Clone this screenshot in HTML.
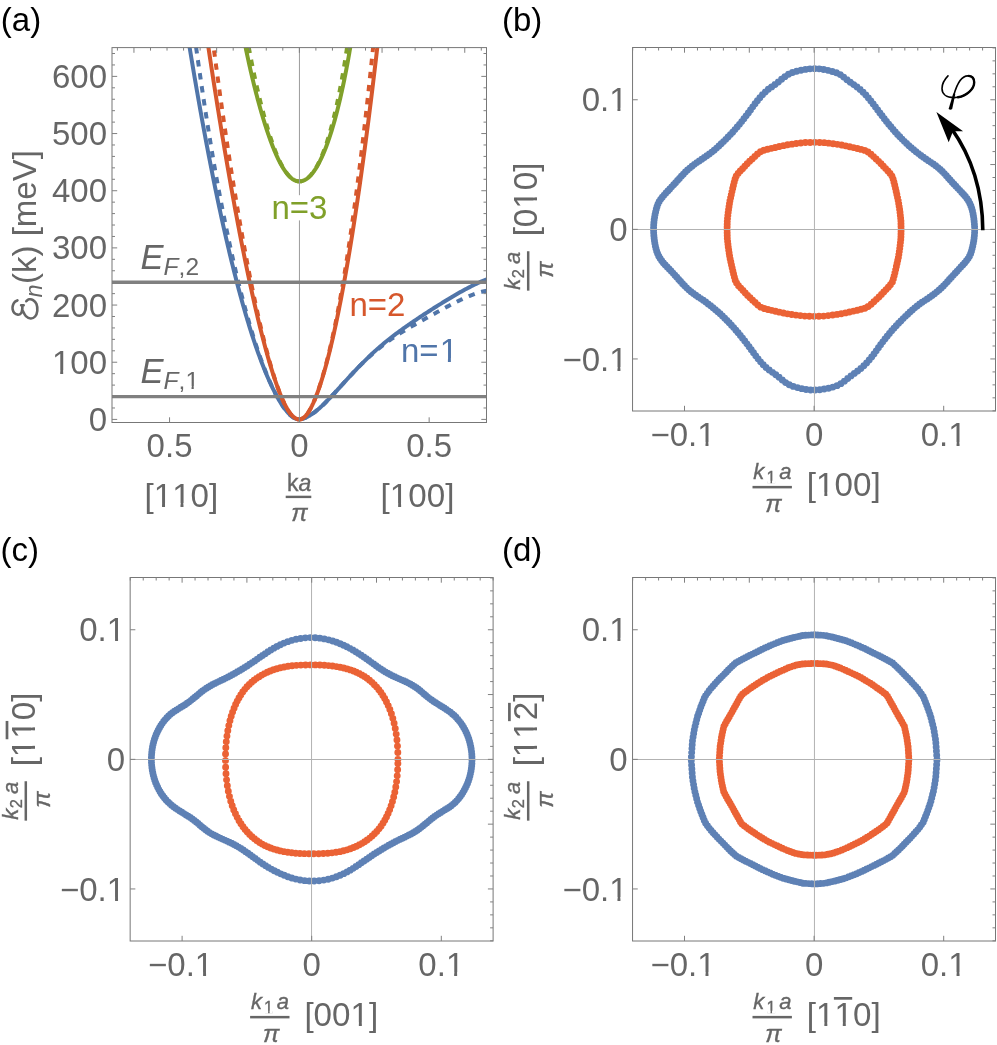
<!DOCTYPE html>
<html><head><meta charset="utf-8"><title>figure</title>
<style>html,body{margin:0;padding:0;background:#fff}svg{display:block;will-change:transform}text{font-family:"Liberation Sans", sans-serif;font-kerning:none}</style></head>
<body><svg width="997" height="1045" viewBox="0 0 997 1045">
<rect width="997" height="1045" fill="#fff"/>
<defs><clipPath id="clipA"><rect x="112" y="47.6" width="374.5" height="374.9"/></clipPath></defs>
<g clip-path="url(#clipA)" fill="none" stroke-width="4.0" stroke-linejoin="round">
<path d="M185.36 21.04 L186.14 25.98 L186.93 30.89 L187.71 35.77 L188.5 40.62 L189.29 45.44 L190.07 50.24 L190.86 55 L191.65 59.73 L192.43 64.43 L193.22 69.11 L194 73.75 L194.79 78.37 L195.58 82.95 L196.36 87.51 L197.15 92.03 L197.93 96.53 L198.72 101 L199.51 105.44 L200.29 109.84 L201.08 114.22 L201.87 118.57 L202.65 122.89 L203.44 127.18 L204.22 131.44 L205.01 135.67 L205.8 139.88 L206.58 144.05 L207.37 148.19 L208.16 152.3 L208.94 156.39 L209.73 160.44 L210.51 164.46 L211.3 168.46 L212.09 172.42 L212.87 176.36 L213.66 180.26 L214.44 184.14 L215.23 187.99 L216.02 191.81 L216.8 195.59 L217.59 199.35 L218.38 203.08 L219.16 206.78 L219.95 210.45 L220.73 214.09 L221.52 217.7 L222.31 221.28 L223.09 224.83 L223.88 228.35 L224.66 231.84 L225.45 235.3 L226.24 238.73 L227.02 242.14 L227.81 245.51 L228.6 248.85 L229.38 252.17 L230.17 255.45 L230.95 258.7 L231.74 261.93 L232.53 265.12 L233.31 268.29 L234.1 271.42 L234.88 274.53 L235.67 277.6 L236.46 280.65 L237.24 283.66 L238.03 286.65 L238.82 289.61 L239.6 292.53 L240.39 295.43 L241.17 298.29 L241.96 301.13 L242.75 303.94 L243.53 306.71 L244.32 309.46 L245.1 312.18 L245.89 314.87 L246.68 317.52 L247.46 320.15 L248.25 322.75 L249.04 325.31 L249.82 327.85 L250.61 330.35 L251.39 332.83 L252.18 335.28 L252.97 337.69 L253.75 340.08 L254.54 342.43 L255.32 344.76 L256.11 347.05 L256.9 349.31 L257.68 351.55 L258.47 353.75 L259.26 355.92 L260.04 358.06 L260.83 360.17 L261.61 362.25 L262.4 364.3 L263.19 366.31 L263.97 368.3 L264.76 370.25 L265.54 372.17 L266.33 374.07 L267.12 375.92 L267.9 377.75 L268.69 379.55 L269.48 381.31 L270.26 383.04 L271.05 384.74 L271.83 386.41 L272.62 388.04 L273.41 389.64 L274.19 391.21 L274.98 392.74 L275.77 394.24 L276.55 395.7 L277.34 397.13 L278.12 398.52 L278.91 399.88 L279.7 401.2 L280.48 402.48 L281.27 403.73 L282.05 404.94 L282.84 406.11 L283.63 407.24 L284.41 408.33 L285.2 409.37 L285.99 410.38 L286.77 411.34 L287.56 412.25 L288.34 413.12 L289.13 413.94 L289.92 414.71 L290.7 415.43 L291.49 416.09 L292.27 416.7 L293.06 417.25 L293.85 417.75 L294.63 418.18 L295.42 418.55 L296.21 418.85 L296.99 419.09 L297.78 419.26 L298.56 419.37 L299.35 419.4 L300.61 419.15 L301.87 418.88 L303.12 418.52 L304.38 418.09 L305.64 417.59 L306.9 417.01 L308.16 416.37 L309.41 415.67 L310.67 414.91 L311.93 414.09 L313.19 413.21 L314.44 412.29 L315.7 411.32 L316.96 410.31 L318.22 409.26 L319.48 408.16 L320.73 407.04 L321.99 405.88 L323.25 404.69 L324.51 403.47 L325.77 402.23 L327.02 400.96 L328.28 399.68 L329.54 398.38 L330.8 397.06 L332.05 395.72 L333.31 394.38 L334.57 393.02 L335.83 391.66 L337.09 390.29 L338.34 388.91 L339.6 387.53 L340.86 386.15 L342.12 384.76 L343.38 383.38 L344.63 382 L345.89 380.62 L347.15 379.24 L348.41 377.87 L349.66 376.51 L350.92 375.15 L352.18 373.8 L353.44 372.45 L354.7 371.12 L355.95 369.79 L357.21 368.47 L358.47 367.16 L359.73 365.87 L360.99 364.58 L362.24 363.31 L363.5 362.05 L364.76 360.8 L366.02 359.56 L367.27 358.33 L368.53 357.12 L369.79 355.92 L371.05 354.74 L372.31 353.56 L373.56 352.4 L374.82 351.26 L376.08 350.13 L377.34 349.01 L378.6 347.9 L379.85 346.81 L381.11 345.73 L382.37 344.67 L383.63 343.62 L384.88 342.57 L386.14 341.55 L387.4 340.53 L388.66 339.53 L389.92 338.53 L391.17 337.55 L392.43 336.58 L393.69 335.62 L394.95 334.66 L396.21 333.72 L397.46 332.78 L398.72 331.86 L399.98 330.94 L401.24 330.02 L402.49 329.12 L403.75 328.22 L405.01 327.33 L406.27 326.44 L407.53 325.56 L408.78 324.69 L410.04 323.82 L411.3 322.95 L412.56 322.09 L413.82 321.24 L415.07 320.39 L416.33 319.54 L417.59 318.7 L418.85 317.86 L420.1 317.03 L421.36 316.2 L422.62 315.37 L423.88 314.54 L425.14 313.72 L426.39 312.91 L427.65 312.09 L428.91 311.28 L430.17 310.47 L431.43 309.66 L432.68 308.86 L433.94 308.06 L435.2 307.26 L436.46 306.47 L437.71 305.68 L438.97 304.89 L440.23 304.11 L441.49 303.33 L442.75 302.55 L444 301.78 L445.26 301 L446.52 300.24 L447.78 299.48 L449.04 298.72 L450.29 297.96 L451.55 297.21 L452.81 296.47 L454.07 295.73 L455.32 294.99 L456.58 294.27 L457.84 293.54 L459.1 292.83 L460.36 292.11 L461.61 291.41 L462.87 290.71 L464.13 290.02 L465.39 289.34 L466.65 288.67 L467.9 288 L469.16 287.35 L470.42 286.7 L471.68 286.06 L472.93 285.44 L474.19 284.82 L475.45 284.21 L476.71 283.62 L477.97 283.04 L479.22 282.47 L480.48 281.91 L481.74 281.37 L483 280.84 L484.26 280.33 L485.51 279.83 L486.77 279.35 L488.03 278.89 L489.29 278.44 L490.54 278.01 L491.8 277.6 L493.06 277.2 L494.32 276.83 L495.58 276.48 L496.83 276.15 L498.09 275.84 L499.35 275.56" stroke="#5075a9" />
<path d="M192.53 21.04 L193.19 25.98 L193.85 30.89 L194.51 35.77 L195.18 40.62 L195.84 45.44 L196.51 50.24 L197.18 55 L197.85 59.73 L198.52 64.43 L199.19 69.11 L199.86 73.75 L200.53 78.37 L201.2 82.95 L201.88 87.51 L202.55 92.03 L203.23 96.53 L203.9 101 L204.58 105.44 L205.25 109.84 L205.93 114.22 L206.61 118.57 L207.29 122.89 L207.97 127.18 L208.65 131.44 L209.33 135.67 L210.02 139.88 L210.7 144.05 L211.38 148.19 L212.07 152.3 L212.75 156.39 L213.44 160.44 L214.12 164.46 L214.81 168.46 L215.5 172.42 L216.21 176.36 L216.93 180.26 L217.65 184.14 L218.37 187.99 L219.09 191.81 L219.81 195.59 L220.53 199.35 L221.25 203.08 L221.97 206.78 L222.69 210.45 L223.42 214.09 L224.14 217.7 L224.86 221.28 L225.59 224.83 L226.31 228.35 L227.04 231.84 L227.76 235.3 L228.49 238.73 L229.22 242.14 L229.95 245.51 L230.67 248.85 L231.4 252.17 L232.13 255.45 L232.86 258.7 L233.59 261.93 L234.32 265.12 L235.05 268.29 L235.78 271.42 L236.51 274.53 L237.25 277.6 L237.98 280.65 L238.72 283.66 L239.47 286.65 L240.21 289.61 L240.96 292.53 L241.7 295.43 L242.45 298.29 L243.2 301.13 L243.94 303.94 L244.69 306.71 L245.44 309.46 L246.19 312.18 L246.94 314.87 L247.69 317.52 L248.44 320.15 L249.19 322.75 L249.94 325.31 L250.69 327.85 L251.44 330.35 L252.19 332.83 L252.95 335.28 L253.7 337.69 L254.45 340.08 L255.21 342.43 L255.97 344.76 L256.73 347.05 L257.49 349.31 L258.25 351.55 L259.01 353.75 L259.77 355.92 L260.53 358.06 L261.29 360.17 L262.05 362.25 L262.82 364.3 L263.58 366.31 L264.34 368.3 L265.11 370.25 L265.87 372.17 L266.63 374.07 L267.4 375.92 L268.16 377.75 L268.93 379.55 L269.69 381.31 L270.46 383.04 L271.23 384.74 L271.99 386.41 L272.76 388.04 L273.53 389.64 L274.3 391.21 L275.06 392.74 L275.83 394.24 L276.6 395.7 L277.37 397.13 L278.14 398.52 L278.91 399.88 L279.7 401.2 L280.48 402.48 L281.27 403.73 L282.05 404.94 L282.84 406.11 L283.63 407.24 L284.41 408.33 L285.2 409.37 L285.99 410.38 L286.77 411.34 L287.56 412.25 L288.34 413.12 L289.13 413.94 L289.92 414.71 L290.7 415.43 L291.49 416.09 L292.27 416.7 L293.06 417.25 L293.85 417.75 L294.63 418.18 L295.42 418.55 L296.21 418.85 L296.99 419.09 L297.78 419.26 L298.56 419.37 L299.35 419.4 L300.61 419.15 L301.87 418.88 L303.12 418.52 L304.38 418.09 L305.64 417.59 L306.9 417.01 L308.16 416.37 L309.41 415.67 L310.67 414.91 L311.93 414.09 L313.19 413.21 L314.44 412.29 L315.7 411.32 L316.96 410.31 L318.22 409.26 L319.48 408.16 L320.73 407.04 L321.99 405.88 L323.25 404.69 L324.51 403.47 L325.77 402.23 L327.02 400.96 L328.28 399.68 L329.54 398.38 L330.8 397.06 L332.05 395.72 L333.31 394.38 L334.57 393.02 L335.83 391.66 L337.09 390.29 L338.34 388.91 L339.6 387.53 L340.86 386.15 L342.12 384.76 L343.38 383.38 L344.63 382 L345.89 380.62 L347.15 379.24 L348.41 377.87 L349.66 376.51 L350.92 375.15 L352.18 373.8 L353.44 372.45 L354.7 371.12 L355.95 369.79 L357.21 368.47 L358.47 367.16 L359.73 365.88 L360.99 364.65 L362.24 363.42 L363.5 362.21 L364.76 361.01 L366.02 359.82 L367.27 358.65 L368.53 357.49 L369.79 356.34 L371.05 355.2 L372.31 354.08 L373.56 352.97 L374.82 351.89 L376.08 350.83 L377.34 349.79 L378.6 348.76 L379.85 347.74 L381.11 346.74 L382.37 345.75 L383.63 344.77 L384.88 343.81 L386.14 342.85 L387.4 341.91 L388.66 340.99 L389.92 340.08 L391.17 339.22 L392.43 338.36 L393.69 337.51 L394.95 336.67 L396.21 335.84 L397.46 335.01 L398.72 334.2 L399.98 333.4 L401.24 332.62 L402.49 331.85 L403.75 331.09 L405.01 330.33 L406.27 329.58 L407.53 328.83 L408.78 328.09 L410.04 327.35 L411.3 326.62 L412.56 325.89 L413.82 325.17 L415.07 324.45 L416.33 323.74 L417.59 323.03 L418.85 322.32 L420.1 321.62 L421.36 320.92 L422.62 320.22 L423.88 319.52 L425.14 318.81 L426.39 318.1 L427.65 317.4 L428.91 316.71 L430.17 316.01 L431.43 315.32 L432.68 314.63 L433.94 313.95 L435.2 313.24 L436.46 312.54 L437.71 311.84 L438.97 311.14 L440.23 310.45 L441.49 309.76 L442.75 309.07 L444 308.39 L445.26 307.71 L446.52 307.03 L447.78 306.36 L449.04 305.7 L450.29 305.03 L451.55 304.38 L452.81 303.72 L454.07 303.07 L455.32 302.43 L456.58 301.8 L457.84 301.19 L459.1 300.59 L460.36 299.99 L461.61 299.4 L462.87 298.82 L464.13 298.25 L465.39 297.68 L466.65 297.12 L467.9 296.59 L469.16 296.08 L470.42 295.58 L471.68 295.09 L472.93 294.61 L474.19 294.14 L475.45 293.68 L476.71 293.23 L477.97 292.8 L479.22 292.44 L480.48 292.11 L481.74 291.8 L483 291.5 L484.26 291.21 L485.51 290.94 L486.77 290.68 L488.03 290.44 L489.29 290.2 L490.54 289.99 L491.8 289.8 L493.06 289.62 L494.32 289.47 L495.58 289.33 L496.83 289.22 L498.09 289.13 L499.35 289.06" stroke="#5075a9" stroke-dasharray="6.4 6.75"/>
<path d="M205.01 24.4 L205.8 29.75 L206.58 35.08 L207.37 40.37 L208.16 45.64 L208.94 50.88 L209.73 56.09 L210.51 61.28 L211.3 66.43 L212.09 71.55 L212.87 76.65 L213.66 81.72 L214.44 86.76 L215.23 91.77 L216.02 96.75 L216.8 101.71 L217.59 106.63 L218.38 111.53 L219.16 116.39 L219.95 121.23 L220.73 126.04 L221.52 130.82 L222.31 135.57 L223.09 140.29 L223.88 144.98 L224.66 149.64 L225.45 154.27 L226.24 158.88 L227.02 163.45 L227.81 167.99 L228.6 172.51 L229.38 176.99 L230.17 181.44 L230.95 185.87 L231.74 190.26 L232.53 194.63 L233.31 198.96 L234.1 203.26 L234.88 207.53 L235.67 211.78 L236.46 215.99 L237.24 220.17 L238.03 224.32 L238.82 228.43 L239.6 232.52 L240.39 236.58 L241.17 240.6 L241.96 244.59 L242.75 248.55 L243.53 252.48 L244.32 256.38 L245.1 260.24 L245.89 264.07 L246.68 267.87 L247.46 271.63 L248.25 275.36 L249.04 279.06 L249.82 282.73 L250.61 286.36 L251.39 289.95 L252.18 293.51 L252.97 297.04 L253.75 300.53 L254.54 303.99 L255.32 307.41 L256.11 310.79 L256.9 314.14 L257.68 317.45 L258.47 320.73 L259.26 323.96 L260.04 327.16 L260.83 330.32 L261.61 333.44 L262.4 336.52 L263.19 339.56 L263.97 342.56 L264.76 345.52 L265.54 348.44 L266.33 351.31 L267.12 354.14 L267.9 356.93 L268.69 359.67 L269.48 362.37 L270.26 365.02 L271.05 367.62 L271.83 370.17 L272.62 372.68 L273.41 375.14 L274.19 377.54 L274.98 379.89 L275.77 382.19 L276.55 384.44 L277.34 386.63 L278.12 388.76 L278.91 390.83 L279.7 392.85 L280.48 394.8 L281.27 396.69 L282.05 398.52 L282.84 400.28 L283.63 401.97 L284.41 403.6 L285.2 405.15 L285.99 406.64 L286.77 408.05 L287.56 409.38 L288.34 410.64 L289.13 411.82 L289.92 412.92 L290.7 413.94 L291.49 414.87 L292.27 415.72 L293.06 416.49 L293.85 417.16 L294.63 417.75 L295.42 418.26 L296.21 418.67 L296.99 418.99 L297.78 419.22 L298.56 419.35 L299.35 419.4 L300.61 419.26 L301.87 418.83 L303.12 418.11 L304.38 417.13 L305.64 415.87 L306.9 414.36 L308.16 412.6 L309.41 410.6 L310.67 408.36 L311.93 405.91 L313.19 403.25 L314.44 400.38 L315.7 397.31 L316.96 394.05 L318.22 390.6 L319.48 386.97 L320.73 383.15 L321.99 379.17 L323.25 375 L324.51 370.67 L325.77 366.17 L327.02 361.5 L328.28 356.67 L329.54 351.68 L330.8 346.52 L332.05 341.2 L333.31 335.72 L334.57 330.09 L335.83 324.29 L337.09 318.34 L338.34 312.24 L339.6 305.97 L340.86 299.56 L342.12 292.98 L343.38 286.25 L344.63 279.37 L345.89 272.34 L347.15 265.15 L348.41 257.81 L349.66 250.31 L350.92 242.67 L352.18 234.87 L353.44 226.92 L354.7 218.81 L355.95 210.56 L357.21 202.15 L358.47 193.59 L359.73 184.88 L360.99 176.02 L362.24 167.01 L363.5 157.85 L364.76 148.53 L366.02 139.07 L367.27 129.45 L368.53 119.69 L369.79 109.77 L371.05 99.7 L372.31 89.49 L373.56 79.12 L374.82 68.6 L376.08 57.93 L377.34 47.12 L378.6 36.15 L379.85 25.03" stroke="#d6572c" />
<path d="M210.55 24.4 L211.26 29.75 L211.97 35.08 L212.68 40.37 L213.39 45.64 L214.1 50.88 L214.79 56.09 L215.48 61.28 L216.17 66.43 L216.86 71.55 L217.56 76.65 L218.25 81.72 L218.94 86.76 L219.64 91.77 L220.33 96.75 L221.03 101.71 L221.73 106.63 L222.42 111.53 L223.12 116.39 L223.82 121.23 L224.52 126.04 L225.22 130.82 L225.92 135.57 L226.62 140.29 L227.32 144.98 L228.02 149.64 L228.72 154.27 L229.42 158.88 L230.12 163.45 L230.83 167.99 L231.54 172.51 L232.26 176.99 L232.98 181.44 L233.7 185.87 L234.42 190.26 L235.14 194.63 L235.86 198.96 L236.58 203.26 L237.3 207.53 L238.03 211.78 L238.75 215.99 L239.47 220.17 L240.2 224.32 L240.92 228.43 L241.65 232.52 L242.37 236.58 L243.1 240.6 L243.82 244.59 L244.55 248.55 L245.28 252.48 L246 256.38 L246.73 260.24 L247.46 264.07 L248.19 267.87 L248.92 271.63 L249.65 275.36 L250.38 279.06 L251.11 282.73 L251.86 286.36 L252.6 289.95 L253.34 293.51 L254.08 297.04 L254.83 300.53 L255.57 303.99 L256.32 307.41 L257.06 310.79 L257.81 314.14 L258.56 317.45 L259.3 320.73 L260.05 323.96 L260.8 327.16 L261.54 330.32 L262.29 333.44 L263.04 336.52 L263.79 339.56 L264.55 342.56 L265.3 345.52 L266.06 348.44 L266.82 351.31 L267.58 354.14 L268.33 356.93 L269.09 359.67 L269.85 362.37 L270.61 365.02 L271.37 367.62 L272.13 370.17 L272.89 372.68 L273.66 375.14 L274.42 377.54 L275.18 379.89 L275.94 382.19 L276.71 384.44 L277.47 386.63 L278.24 388.76 L279 390.83 L279.77 392.85 L280.53 394.8 L281.3 396.69 L282.07 398.52 L282.84 400.28 L283.63 401.97 L284.41 403.6 L285.2 405.15 L285.99 406.64 L286.77 408.05 L287.56 409.38 L288.34 410.64 L289.13 411.82 L289.92 412.92 L290.7 413.94 L291.49 414.87 L292.27 415.72 L293.06 416.49 L293.85 417.16 L294.63 417.75 L295.42 418.26 L296.21 418.67 L296.99 418.99 L297.78 419.22 L298.56 419.35 L299.35 419.4 L300.61 419.26 L301.87 418.83 L303.12 418.11 L304.38 417.13 L305.64 415.87 L306.9 414.36 L308.16 412.6 L309.41 410.6 L310.67 408.36 L311.93 405.91 L313.19 403.25 L314.44 400.38 L315.68 397.31 L316.92 394.05 L318.16 390.6 L319.39 386.97 L320.62 383.15 L321.85 379.17 L323.08 375 L324.31 370.67 L325.54 366.17 L326.77 361.5 L327.99 356.67 L329.22 351.68 L330.44 346.52 L331.66 341.2 L332.87 335.72 L334.07 330.09 L335.27 324.29 L336.46 318.34 L337.66 312.24 L338.85 305.97 L340.04 299.56 L341.23 292.98 L342.42 286.25 L343.6 279.37 L344.76 272.34 L345.92 265.15 L347.07 257.81 L348.23 250.31 L349.38 242.67 L350.53 234.87 L351.68 226.92 L352.83 218.81 L353.97 210.56 L355.12 202.15 L356.26 193.59 L357.39 184.88 L358.53 176.02 L359.67 167.01 L360.8 157.85 L361.93 148.53 L363.06 139.07 L364.19 129.45 L365.31 119.69 L366.44 109.77 L367.56 99.7 L368.68 89.49 L369.79 79.12 L370.91 68.6 L372.02 57.93 L373.13 47.12 L374.27 36.15 L375.41 25.03" stroke="#d6572c" stroke-dasharray="6.4 6.75"/>
<path d="M240.48 20.94 L240.86 23.01 L241.24 25.06 L241.61 27.08 L241.99 29.09 L242.37 31.08 L242.75 33.05 L243.12 35.01 L243.5 36.94 L243.88 38.86 L244.26 40.76 L244.63 42.65 L245.01 44.52 L245.39 46.37 L245.77 48.2 L246.14 50.02 L246.52 51.83 L246.9 53.62 L247.27 55.39 L247.65 57.15 L248.03 58.89 L248.41 60.62 L248.78 62.34 L249.16 64.04 L249.54 65.73 L249.92 67.4 L250.29 69.07 L250.67 70.71 L251.05 72.35 L251.43 73.97 L251.8 75.58 L252.18 77.17 L252.56 78.75 L252.93 80.32 L253.31 81.88 L253.69 83.42 L254.07 84.96 L254.44 86.48 L254.82 87.99 L255.2 89.48 L255.58 90.97 L255.95 92.44 L256.33 93.9 L256.71 95.35 L257.09 96.79 L257.46 98.21 L257.84 99.63 L258.22 101.03 L258.6 102.42 L258.97 103.8 L259.35 105.17 L259.73 106.52 L260.1 107.87 L260.48 109.21 L260.86 110.53 L261.24 111.84 L261.61 113.14 L261.99 114.43 L262.37 115.71 L262.75 116.98 L263.12 118.23 L263.5 119.48 L263.88 120.71 L264.26 121.93 L264.63 123.15 L265.01 124.35 L265.39 125.54 L265.77 126.71 L266.14 127.88 L266.52 129.03 L266.9 130.18 L267.27 131.31 L267.65 132.43 L268.03 133.54 L268.41 134.64 L268.78 135.73 L269.16 136.8 L269.54 137.87 L269.92 138.92 L270.29 139.96 L270.67 140.99 L271.05 142.01 L271.43 143.01 L271.8 144 L272.18 144.99 L272.56 145.96 L272.93 146.91 L273.31 147.86 L273.69 148.8 L274.07 149.72 L274.44 150.63 L274.82 151.53 L275.2 152.41 L275.58 153.28 L275.95 154.15 L276.33 154.99 L276.71 155.83 L277.09 156.65 L277.46 157.47 L277.84 158.26 L278.22 159.05 L278.6 159.82 L278.97 160.58 L279.35 161.33 L279.73 162.07 L280.1 162.79 L280.48 163.5 L280.86 164.19 L281.24 164.88 L281.61 165.55 L281.99 166.2 L282.37 166.85 L282.75 167.48 L283.12 168.09 L283.5 168.7 L283.88 169.29 L284.26 169.86 L284.63 170.43 L285.01 170.97 L285.39 171.51 L285.77 172.03 L286.14 172.54 L286.52 173.03 L286.9 173.52 L287.27 173.98 L287.65 174.43 L288.03 174.87 L288.41 175.3 L288.78 175.71 L289.16 176.11 L289.54 176.49 L289.92 176.86 L290.29 177.21 L290.67 177.55 L291.05 177.88 L291.43 178.19 L291.8 178.49 L292.18 178.77 L292.56 179.04 L292.93 179.29 L293.31 179.53 L293.69 179.76 L294.07 179.97 L294.44 180.17 L294.82 180.35 L295.2 180.52 L295.58 180.67 L295.95 180.81 L296.33 180.93 L296.71 181.04 L297.09 181.14 L297.46 181.22 L297.84 181.28 L298.22 181.33 L298.6 181.37 L298.97 181.39 L299.35 181.4 L299.71 181.39 L300.08 181.37 L300.44 181.34 L300.81 181.3 L301.17 181.24 L301.54 181.17 L301.9 181.09 L302.27 181 L302.63 180.89 L303 180.77 L303.36 180.63 L303.73 180.49 L304.09 180.33 L304.46 180.16 L304.82 179.98 L305.19 179.78 L305.55 179.57 L305.92 179.35 L306.28 179.12 L306.65 178.87 L307.01 178.61 L307.38 178.34 L307.74 178.05 L308.1 177.75 L308.47 177.44 L308.83 177.12 L309.2 176.78 L309.56 176.43 L309.93 176.07 L310.29 175.7 L310.66 175.31 L311.02 174.91 L311.39 174.5 L311.75 174.07 L312.12 173.63 L312.48 173.18 L312.85 172.72 L313.21 172.24 L313.58 171.75 L313.94 171.25 L314.31 170.73 L314.67 170.2 L315.04 169.66 L315.4 169.1 L315.77 168.54 L316.13 167.95 L316.49 167.36 L316.86 166.75 L317.22 166.13 L317.59 165.5 L317.95 164.85 L318.32 164.19 L318.68 163.52 L319.05 162.83 L319.41 162.13 L319.78 161.42 L320.14 160.69 L320.51 159.95 L320.87 159.2 L321.24 158.43 L321.6 157.65 L321.97 156.86 L322.33 156.05 L322.7 155.23 L323.06 154.39 L323.43 153.55 L323.79 152.68 L324.16 151.81 L324.52 150.92 L324.88 150.01 L325.25 149.1 L325.61 148.16 L325.98 147.22 L326.34 146.26 L326.71 145.28 L327.07 144.3 L327.44 143.29 L327.8 142.28 L328.17 141.24 L328.53 140.2 L328.9 139.14 L329.26 138.06 L329.63 136.97 L329.99 135.86 L330.36 134.74 L330.72 133.61 L331.09 132.46 L331.45 131.29 L331.82 130.11 L332.18 128.92 L332.54 127.7 L332.91 126.48 L333.27 125.23 L333.64 123.98 L334 122.7 L334.37 121.41 L334.73 120.1 L335.1 118.78 L335.46 117.44 L335.83 116.08 L336.19 114.71 L336.56 113.32 L336.92 111.92 L337.29 110.49 L337.65 109.05 L338.02 107.6 L338.38 106.12 L338.75 104.63 L339.11 103.12 L339.48 101.59 L339.84 100.04 L340.21 98.48 L340.57 96.89 L340.93 95.29 L341.3 93.67 L341.66 92.03 L342.03 90.37 L342.39 88.7 L342.76 87 L343.12 85.28 L343.49 83.54 L343.85 81.79 L344.22 80.01 L344.58 78.21 L344.95 76.39 L345.31 74.55 L345.68 72.69 L346.04 70.81 L346.41 68.9 L346.77 66.98 L347.14 65.03 L347.5 63.06 L347.87 61.06 L348.23 59.05 L348.6 57 L348.96 54.94 L349.32 52.85 L349.69 50.74 L350.05 48.6 L350.42 46.44 L350.78 44.26 L351.15 42.05 L351.51 39.81 L351.88 37.54 L352.24 35.25 L352.61 32.94 L352.97 30.59 L353.34 28.22 L353.7 25.82 L354.07 23.4 L354.43 20.94" stroke="#80a02a" />
<path d="M244.07 20.94 L244.42 23.01 L244.76 25.06 L245.11 27.08 L245.46 29.09 L245.81 31.08 L246.16 33.05 L246.51 35.01 L246.86 36.94 L247.2 38.86 L247.55 40.76 L247.9 42.65 L248.26 44.52 L248.61 46.37 L248.95 48.2 L249.29 50.02 L249.63 51.83 L249.96 53.62 L250.3 55.39 L250.64 57.15 L250.98 58.89 L251.32 60.62 L251.66 62.34 L252 64.04 L252.34 65.73 L252.68 67.4 L253.02 69.07 L253.36 70.71 L253.7 72.35 L254.04 73.97 L254.38 75.58 L254.73 77.17 L255.07 78.75 L255.41 80.32 L255.75 81.88 L256.1 83.42 L256.44 84.96 L256.79 86.48 L257.13 87.99 L257.47 89.48 L257.82 90.97 L258.16 92.44 L258.51 93.9 L258.85 95.35 L259.2 96.79 L259.54 98.21 L259.89 99.63 L260.24 101.03 L260.58 102.42 L260.93 103.8 L261.28 105.17 L261.63 106.52 L261.97 107.87 L262.32 109.21 L262.67 110.53 L263.02 111.84 L263.37 113.14 L263.71 114.43 L264.06 115.71 L264.41 116.98 L264.76 118.23 L265.11 119.48 L265.46 120.71 L265.8 121.93 L266.14 123.15 L266.49 124.35 L266.83 125.54 L267.18 126.71 L267.52 127.88 L267.87 129.03 L268.21 130.18 L268.56 131.31 L268.9 132.43 L269.25 133.54 L269.6 134.64 L269.94 135.73 L270.29 136.8 L270.64 137.87 L270.99 138.92 L271.33 139.96 L271.68 140.99 L272.03 142.01 L272.38 143.01 L272.73 144 L273.08 144.99 L273.43 145.96 L273.78 146.91 L274.13 147.86 L274.48 148.8 L274.83 149.72 L275.19 150.63 L275.54 151.53 L275.89 152.41 L276.24 153.28 L276.6 154.15 L276.95 154.99 L277.31 155.83 L277.66 156.65 L278.01 157.47 L278.37 158.26 L278.72 159.05 L279.08 159.82 L279.44 160.58 L279.79 161.33 L280.15 162.07 L280.51 162.79 L280.86 163.5 L281.22 164.19 L281.58 164.88 L281.94 165.55 L282.3 166.2 L282.66 166.85 L283.02 167.48 L283.38 168.09 L283.74 168.7 L284.1 169.29 L284.46 169.86 L284.83 170.43 L285.19 170.97 L285.56 171.51 L285.93 172.03 L286.3 172.54 L286.67 173.03 L287.04 173.52 L287.41 173.98 L287.78 174.43 L288.15 174.87 L288.52 175.3 L288.89 175.71 L289.26 176.11 L289.63 176.49 L290 176.86 L290.37 177.21 L290.74 177.55 L291.12 177.88 L291.49 178.19 L291.86 178.49 L292.23 178.77 L292.61 179.04 L292.98 179.29 L293.35 179.53 L293.73 179.76 L294.1 179.97 L294.47 180.17 L294.85 180.35 L295.22 180.52 L295.6 180.67 L295.97 180.81 L296.35 180.93 L296.72 181.04 L297.1 181.14 L297.48 181.22 L297.85 181.28 L298.23 181.33 L298.61 181.37 L298.98 181.39 L299.35 181.4 L299.7 181.39 L300.07 181.37 L300.43 181.34 L300.8 181.3 L301.16 181.24 L301.52 181.17 L301.89 181.09 L302.25 181 L302.61 180.89 L302.98 180.77 L303.34 180.63 L303.7 180.49 L304.06 180.33 L304.43 180.16 L304.79 179.98 L305.15 179.78 L305.51 179.57 L305.87 179.35 L306.23 179.12 L306.59 178.87 L306.95 178.61 L307.31 178.34 L307.67 178.05 L308.03 177.75 L308.39 177.44 L308.75 177.12 L309.11 176.78 L309.47 176.43 L309.83 176.07 L310.19 175.7 L310.55 175.31 L310.9 174.91 L311.26 174.5 L311.62 174.07 L311.98 173.63 L312.34 173.18 L312.69 172.72 L313.05 172.24 L313.41 171.75 L313.76 171.25 L314.12 170.73 L314.47 170.2 L314.83 169.66 L315.18 169.1 L315.52 168.54 L315.87 167.95 L316.22 167.36 L316.57 166.75 L316.92 166.13 L317.26 165.5 L317.61 164.85 L317.96 164.19 L318.3 163.52 L318.65 162.83 L318.99 162.13 L319.34 161.42 L319.68 160.69 L320.03 159.95 L320.37 159.2 L320.71 158.43 L321.06 157.65 L321.4 156.86 L321.74 156.05 L322.08 155.23 L322.42 154.39 L322.76 153.55 L323.11 152.68 L323.45 151.81 L323.79 150.92 L324.12 150.01 L324.46 149.1 L324.8 148.16 L325.14 147.22 L325.48 146.26 L325.82 145.28 L326.15 144.3 L326.49 143.29 L326.83 142.28 L327.16 141.24 L327.5 140.2 L327.83 139.14 L328.17 138.06 L328.5 136.97 L328.84 135.86 L329.17 134.74 L329.5 133.61 L329.83 132.46 L330.17 131.29 L330.5 130.11 L330.83 128.92 L331.16 127.7 L331.49 126.48 L331.82 125.23 L332.15 123.98 L332.48 122.7 L332.81 121.41 L333.14 120.1 L333.47 118.78 L333.81 117.44 L334.14 116.08 L334.48 114.71 L334.81 113.32 L335.14 111.92 L335.48 110.49 L335.81 109.05 L336.14 107.6 L336.47 106.12 L336.81 104.63 L337.14 103.12 L337.47 101.59 L337.8 100.04 L338.13 98.48 L338.46 96.89 L338.79 95.29 L339.12 93.67 L339.45 92.03 L339.77 90.37 L340.1 88.7 L340.43 87 L340.76 85.28 L341.08 83.54 L341.41 81.79 L341.73 80.01 L342.06 78.21 L342.38 76.39 L342.71 74.55 L343.03 72.69 L343.35 70.81 L343.68 68.9 L344 66.98 L344.32 65.03 L344.64 63.06 L344.96 61.06 L345.28 59.05 L345.6 57 L345.92 54.94 L346.24 52.85 L346.56 50.74 L346.88 48.6 L347.2 46.44 L347.54 44.26 L347.87 42.05 L348.2 39.81 L348.53 37.54 L348.86 35.25 L349.2 32.94 L349.53 30.59 L349.86 28.22 L350.19 25.82 L350.52 23.4 L350.85 20.94" stroke="#80a02a" stroke-dasharray="6.4 6.75"/>
</g>
<line x1="299.45" y1="47.6" x2="299.45" y2="422.5" stroke="#9c9c9c" stroke-width="1"/>
<line x1="112" y1="396.63" x2="486.5" y2="396.63" stroke="#808080" stroke-width="3.4"/>
<line x1="112" y1="282.24" x2="486.5" y2="282.24" stroke="#808080" stroke-width="3.4"/>
<rect x="270" y="195.2" width="58" height="25.2" fill="#fff"/>
<text x="299.5" y="218.7" font-size="33" text-anchor="middle" fill="#80a02a"  >n=3</text>
<text x="349.5" y="315.6" font-size="33" text-anchor="start" fill="#d6572c"  >n=2</text>
<text x="401" y="361.6" font-size="33" text-anchor="start" fill="#5075a9"  >n=<tspan dx="1">1</tspan></text><rect x="441.28" y="358.13" width="6.62" height="4.17" fill="#fff" stroke="none"/><rect x="450.87" y="358.13" width="6.27" height="4.17" fill="#fff" stroke="none"/>
<text x="140.6" y="268.7" font-size="34.5" fill="#666666"><tspan font-style="italic">E</tspan><tspan font-style="italic" font-size="24.5" dy="6.3">F</tspan><tspan font-size="24.5">,2</tspan></text>
<text x="140.6" y="382.6" font-size="34.5" fill="#666666"><tspan font-style="italic">E</tspan><tspan font-style="italic" font-size="24.5" dy="6.3">F</tspan><tspan font-size="24.5">,1</tspan></text><rect x="186.61" y="386.07" width="4.91" height="3.53" fill="#fff" stroke="none"/><rect x="193.75" y="386.07" width="4.66" height="3.53" fill="#fff" stroke="none"/>
<rect x="112" y="47.6" width="374.5" height="374.9" fill="none" stroke="#777777" stroke-width="1"/>
<line x1="112" y1="419.4" x2="117.2" y2="419.4" stroke="#808080" stroke-width="1"/>
<line x1="481.3" y1="419.4" x2="486.5" y2="419.4" stroke="#808080" stroke-width="1"/>
<line x1="112" y1="407.97" x2="115" y2="407.97" stroke="#808080" stroke-width="1"/>
<line x1="483.5" y1="407.97" x2="486.5" y2="407.97" stroke="#808080" stroke-width="1"/>
<line x1="112" y1="396.53" x2="115" y2="396.53" stroke="#808080" stroke-width="1"/>
<line x1="483.5" y1="396.53" x2="486.5" y2="396.53" stroke="#808080" stroke-width="1"/>
<line x1="112" y1="385.1" x2="115" y2="385.1" stroke="#808080" stroke-width="1"/>
<line x1="483.5" y1="385.1" x2="486.5" y2="385.1" stroke="#808080" stroke-width="1"/>
<line x1="112" y1="373.66" x2="115" y2="373.66" stroke="#808080" stroke-width="1"/>
<line x1="483.5" y1="373.66" x2="486.5" y2="373.66" stroke="#808080" stroke-width="1"/>
<line x1="112" y1="362.23" x2="117.2" y2="362.23" stroke="#808080" stroke-width="1"/>
<line x1="481.3" y1="362.23" x2="486.5" y2="362.23" stroke="#808080" stroke-width="1"/>
<line x1="112" y1="350.8" x2="115" y2="350.8" stroke="#808080" stroke-width="1"/>
<line x1="483.5" y1="350.8" x2="486.5" y2="350.8" stroke="#808080" stroke-width="1"/>
<line x1="112" y1="339.36" x2="115" y2="339.36" stroke="#808080" stroke-width="1"/>
<line x1="483.5" y1="339.36" x2="486.5" y2="339.36" stroke="#808080" stroke-width="1"/>
<line x1="112" y1="327.93" x2="115" y2="327.93" stroke="#808080" stroke-width="1"/>
<line x1="483.5" y1="327.93" x2="486.5" y2="327.93" stroke="#808080" stroke-width="1"/>
<line x1="112" y1="316.49" x2="115" y2="316.49" stroke="#808080" stroke-width="1"/>
<line x1="483.5" y1="316.49" x2="486.5" y2="316.49" stroke="#808080" stroke-width="1"/>
<line x1="112" y1="305.06" x2="117.2" y2="305.06" stroke="#808080" stroke-width="1"/>
<line x1="481.3" y1="305.06" x2="486.5" y2="305.06" stroke="#808080" stroke-width="1"/>
<line x1="112" y1="293.63" x2="115" y2="293.63" stroke="#808080" stroke-width="1"/>
<line x1="483.5" y1="293.63" x2="486.5" y2="293.63" stroke="#808080" stroke-width="1"/>
<line x1="112" y1="282.19" x2="115" y2="282.19" stroke="#808080" stroke-width="1"/>
<line x1="483.5" y1="282.19" x2="486.5" y2="282.19" stroke="#808080" stroke-width="1"/>
<line x1="112" y1="270.76" x2="115" y2="270.76" stroke="#808080" stroke-width="1"/>
<line x1="483.5" y1="270.76" x2="486.5" y2="270.76" stroke="#808080" stroke-width="1"/>
<line x1="112" y1="259.32" x2="115" y2="259.32" stroke="#808080" stroke-width="1"/>
<line x1="483.5" y1="259.32" x2="486.5" y2="259.32" stroke="#808080" stroke-width="1"/>
<line x1="112" y1="247.89" x2="117.2" y2="247.89" stroke="#808080" stroke-width="1"/>
<line x1="481.3" y1="247.89" x2="486.5" y2="247.89" stroke="#808080" stroke-width="1"/>
<line x1="112" y1="236.46" x2="115" y2="236.46" stroke="#808080" stroke-width="1"/>
<line x1="483.5" y1="236.46" x2="486.5" y2="236.46" stroke="#808080" stroke-width="1"/>
<line x1="112" y1="225.02" x2="115" y2="225.02" stroke="#808080" stroke-width="1"/>
<line x1="483.5" y1="225.02" x2="486.5" y2="225.02" stroke="#808080" stroke-width="1"/>
<line x1="112" y1="213.59" x2="115" y2="213.59" stroke="#808080" stroke-width="1"/>
<line x1="483.5" y1="213.59" x2="486.5" y2="213.59" stroke="#808080" stroke-width="1"/>
<line x1="112" y1="202.15" x2="115" y2="202.15" stroke="#808080" stroke-width="1"/>
<line x1="483.5" y1="202.15" x2="486.5" y2="202.15" stroke="#808080" stroke-width="1"/>
<line x1="112" y1="190.72" x2="117.2" y2="190.72" stroke="#808080" stroke-width="1"/>
<line x1="481.3" y1="190.72" x2="486.5" y2="190.72" stroke="#808080" stroke-width="1"/>
<line x1="112" y1="179.29" x2="115" y2="179.29" stroke="#808080" stroke-width="1"/>
<line x1="483.5" y1="179.29" x2="486.5" y2="179.29" stroke="#808080" stroke-width="1"/>
<line x1="112" y1="167.85" x2="115" y2="167.85" stroke="#808080" stroke-width="1"/>
<line x1="483.5" y1="167.85" x2="486.5" y2="167.85" stroke="#808080" stroke-width="1"/>
<line x1="112" y1="156.42" x2="115" y2="156.42" stroke="#808080" stroke-width="1"/>
<line x1="483.5" y1="156.42" x2="486.5" y2="156.42" stroke="#808080" stroke-width="1"/>
<line x1="112" y1="144.98" x2="115" y2="144.98" stroke="#808080" stroke-width="1"/>
<line x1="483.5" y1="144.98" x2="486.5" y2="144.98" stroke="#808080" stroke-width="1"/>
<line x1="112" y1="133.55" x2="117.2" y2="133.55" stroke="#808080" stroke-width="1"/>
<line x1="481.3" y1="133.55" x2="486.5" y2="133.55" stroke="#808080" stroke-width="1"/>
<line x1="112" y1="122.12" x2="115" y2="122.12" stroke="#808080" stroke-width="1"/>
<line x1="483.5" y1="122.12" x2="486.5" y2="122.12" stroke="#808080" stroke-width="1"/>
<line x1="112" y1="110.68" x2="115" y2="110.68" stroke="#808080" stroke-width="1"/>
<line x1="483.5" y1="110.68" x2="486.5" y2="110.68" stroke="#808080" stroke-width="1"/>
<line x1="112" y1="99.25" x2="115" y2="99.25" stroke="#808080" stroke-width="1"/>
<line x1="483.5" y1="99.25" x2="486.5" y2="99.25" stroke="#808080" stroke-width="1"/>
<line x1="112" y1="87.81" x2="115" y2="87.81" stroke="#808080" stroke-width="1"/>
<line x1="483.5" y1="87.81" x2="486.5" y2="87.81" stroke="#808080" stroke-width="1"/>
<line x1="112" y1="76.38" x2="117.2" y2="76.38" stroke="#808080" stroke-width="1"/>
<line x1="481.3" y1="76.38" x2="486.5" y2="76.38" stroke="#808080" stroke-width="1"/>
<line x1="112" y1="64.95" x2="115" y2="64.95" stroke="#808080" stroke-width="1"/>
<line x1="483.5" y1="64.95" x2="486.5" y2="64.95" stroke="#808080" stroke-width="1"/>
<line x1="112" y1="53.51" x2="115" y2="53.51" stroke="#808080" stroke-width="1"/>
<line x1="483.5" y1="53.51" x2="486.5" y2="53.51" stroke="#808080" stroke-width="1"/>
<line x1="117.41" y1="47.6" x2="117.41" y2="50.6" stroke="#808080" stroke-width="1"/>
<line x1="133.95" y1="47.6" x2="133.95" y2="52.8" stroke="#808080" stroke-width="1"/>
<line x1="150.49" y1="47.6" x2="150.49" y2="50.6" stroke="#808080" stroke-width="1"/>
<line x1="167.03" y1="47.6" x2="167.03" y2="50.6" stroke="#808080" stroke-width="1"/>
<line x1="183.57" y1="47.6" x2="183.57" y2="50.6" stroke="#808080" stroke-width="1"/>
<line x1="200.11" y1="47.6" x2="200.11" y2="50.6" stroke="#808080" stroke-width="1"/>
<line x1="216.65" y1="47.6" x2="216.65" y2="52.8" stroke="#808080" stroke-width="1"/>
<line x1="233.19" y1="47.6" x2="233.19" y2="50.6" stroke="#808080" stroke-width="1"/>
<line x1="249.73" y1="47.6" x2="249.73" y2="50.6" stroke="#808080" stroke-width="1"/>
<line x1="266.27" y1="47.6" x2="266.27" y2="50.6" stroke="#808080" stroke-width="1"/>
<line x1="282.81" y1="47.6" x2="282.81" y2="50.6" stroke="#808080" stroke-width="1"/>
<line x1="299.35" y1="47.6" x2="299.35" y2="52.8" stroke="#808080" stroke-width="1"/>
<line x1="315.89" y1="47.6" x2="315.89" y2="50.6" stroke="#808080" stroke-width="1"/>
<line x1="332.43" y1="47.6" x2="332.43" y2="50.6" stroke="#808080" stroke-width="1"/>
<line x1="348.97" y1="47.6" x2="348.97" y2="50.6" stroke="#808080" stroke-width="1"/>
<line x1="365.51" y1="47.6" x2="365.51" y2="50.6" stroke="#808080" stroke-width="1"/>
<line x1="382.05" y1="47.6" x2="382.05" y2="52.8" stroke="#808080" stroke-width="1"/>
<line x1="398.59" y1="47.6" x2="398.59" y2="50.6" stroke="#808080" stroke-width="1"/>
<line x1="415.13" y1="47.6" x2="415.13" y2="50.6" stroke="#808080" stroke-width="1"/>
<line x1="431.67" y1="47.6" x2="431.67" y2="50.6" stroke="#808080" stroke-width="1"/>
<line x1="448.21" y1="47.6" x2="448.21" y2="50.6" stroke="#808080" stroke-width="1"/>
<line x1="464.75" y1="47.6" x2="464.75" y2="52.8" stroke="#808080" stroke-width="1"/>
<line x1="481.29" y1="47.6" x2="481.29" y2="50.6" stroke="#808080" stroke-width="1"/>
<line x1="169.55" y1="417.3" x2="169.55" y2="422.5" stroke="#808080" stroke-width="1"/>
<line x1="299.35" y1="417.3" x2="299.35" y2="422.5" stroke="#808080" stroke-width="1"/>
<line x1="429.15" y1="417.3" x2="429.15" y2="422.5" stroke="#808080" stroke-width="1"/>
<text x="107" y="431" font-size="33" text-anchor="end" fill="#666666"  >0</text>
<text x="107" y="373.83" font-size="33" text-anchor="end" fill="#666666"  >100</text><rect x="53.59" y="370.36" width="6.62" height="4.17" fill="#fff" stroke="none"/><rect x="63.18" y="370.36" width="6.27" height="4.17" fill="#fff" stroke="none"/>
<text x="107" y="316.66" font-size="33" text-anchor="end" fill="#666666"  >200</text>
<text x="107" y="259.49" font-size="33" text-anchor="end" fill="#666666"  >300</text>
<text x="107" y="202.32" font-size="33" text-anchor="end" fill="#666666"  >400</text>
<text x="107" y="145.15" font-size="33" text-anchor="end" fill="#666666"  >500</text>
<text x="107" y="87.98" font-size="33" text-anchor="end" fill="#666666"  >600</text>
<text x="169.55" y="457.1" font-size="33" text-anchor="middle" fill="#666666"  >0.5</text>
<text x="299.35" y="457.1" font-size="33" text-anchor="middle" fill="#666666"  >0</text>
<text x="429.15" y="457.1" font-size="33" text-anchor="middle" fill="#666666"  >0.5</text>
<text x="181.4" y="506.5" font-size="33.2" text-anchor="middle" fill="#666666"  >[110]</text><rect x="155.37" y="503.02" width="6.66" height="4.18" fill="#fff" stroke="none"/><rect x="165.02" y="503.02" width="6.31" height="4.18" fill="#fff" stroke="none"/><rect x="173.82" y="503.02" width="6.66" height="4.18" fill="#fff" stroke="none"/><rect x="183.47" y="503.02" width="6.31" height="4.18" fill="#fff" stroke="none"/>
<text x="417.5" y="506.5" font-size="33.2" text-anchor="middle" fill="#666666"  >[100]</text><rect x="391.47" y="503.02" width="6.66" height="4.18" fill="#fff" stroke="none"/><rect x="401.12" y="503.02" width="6.31" height="4.18" fill="#fff" stroke="none"/>
<g fill="#666666">
<text x="299.2" y="491.1" font-size="23" text-anchor="middle" stroke="#666" stroke-width="0.35">k<tspan font-style="italic">a</tspan></text>
<rect x="285.7" y="495.7" width="25.6" height="2.4" />
<text x="299.5" y="521.2" font-size="24.5" font-style="italic" text-anchor="middle" stroke="#666666" stroke-width="0.35">π</text>
</g>
<g transform="translate(36.3,319.5) rotate(-90)" fill="#666666">
<path d="M19.07 -18.86 C18.8 -19.33 18.33 -20.9 17.46 -21.67 C16.59 -22.44 15.05 -23.14 13.85 -23.48 C12.65 -23.82 11.44 -23.91 10.24 -23.68 C9.04 -23.45 7.53 -22.94 6.63 -22.07 C5.73 -21.2 4.9 -19.6 4.83 -18.46 C4.76 -17.32 5.33 -15.98 6.23 -15.25 C7.13 -14.52 8.94 -14.28 10.24 -14.05 C11.54 -13.82 13.42 -13.88 14.05 -13.85 M14.05 -13.85 C13.42 -13.88 11.21 -14.15 10.24 -14.05 C9.27 -13.95 9.38 -13.85 8.24 -13.25 C7.1 -12.65 4.62 -11.71 3.42 -10.44 C2.21 -9.17 1.08 -7.16 1.01 -5.62 C0.94 -4.08 1.75 -2.31 3.02 -1.21 C4.29 -0.11 6.57 0.77 8.64 1 C10.71 1.23 13.66 0.89 15.46 0.19 C17.27 -0.51 18.68 -1.98 19.47 -3.22 C20.26 -4.46 20.39 -6.09 20.19 -7.23 C19.99 -8.37 18.59 -9.57 18.27 -10.04 M14.25 -15.2 L14.25 -12.6" fill="none" stroke="#666666" stroke-width="2.6" stroke-linecap="round" stroke-linejoin="round"/>
<text x="22" y="6" font-size="23.5" font-style="italic">n</text>
<text x="35.5" y="0" font-size="33">(k) [meV]</text>
</g>
<text x="0.8" y="30.6" font-size="33" text-anchor="start" fill="#000"  >(a)</text>
<path d="M974.65 229.34h0M974.58 226.75h0M974.42 224.14h0M974.18 221.52h0M973.87 218.91h0M973.49 216.28h0M973.04 213.66h0M972.47 211.04h0M971.78 208.45h0M970.91 205.89h0M969.85 203.39h0M968.57 200.99h0M967.07 198.7h0M965.39 196.52h0M963.6 194.42h0M961.72 192.38h0M959.78 190.37h0M957.84 188.36h0M955.9 186.32h0M953.98 184.25h0M952.07 182.15h0M950.17 180.02h0M948.27 177.88h0M946.34 175.74h0M944.37 173.62h0M942.33 171.54h0M940.21 169.53h0M937.99 167.61h0M935.67 165.78h0M933.27 164.04h0M930.81 162.34h0M928.33 160.66h0M925.84 158.97h0M923.36 157.23h0M920.89 155.44h0M918.45 153.59h0M916.03 151.69h0M913.63 149.73h0M911.25 147.72h0M908.9 145.65h0M906.58 143.52h0M904.28 141.33h0M902.02 139.08h0M899.77 136.77h0M897.53 134.38h0M895.31 131.93h0M893.09 129.4h0M890.88 126.81h0M888.67 124.15h0M886.47 121.43h0M884.27 118.64h0M882.08 115.8h0M879.88 112.9h0M877.68 109.95h0M875.46 106.95h0M873.19 103.94h0M870.85 100.93h0M868.4 97.94h0M865.82 95.02h0M863.07 92.2h0M860.12 89.51h0M856.97 86.99h0M853.66 84.61h0M850.28 82.24h0M846.93 79.77h0M843.65 77.11h0M840.23 74.58h0M836.35 72.74h0M832.2 71.45h0M827.94 70.36h0M823.58 69.48h0M819.13 68.87h0M814.6 68.64h0M810.01 68.84h0M805.49 69.41h0M801.06 70.21h0M796.71 71.2h0M792.51 72.51h0M788.55 74.3h0M784.93 76.64h0M781.59 79.28h0M778.35 81.98h0M775.05 84.54h0M771.65 86.89h0M768.35 89.29h0M765.29 91.93h0M762.48 94.76h0M759.87 97.72h0M757.41 100.75h0M755.05 103.81h0M752.77 106.86h0M750.53 109.9h0M748.32 112.91h0M746.12 115.86h0M743.92 118.76h0M741.7 121.58h0M739.47 124.33h0M737.21 127.01h0M734.94 129.61h0M732.67 132.14h0M730.39 134.61h0M728.1 137h0M725.82 139.33h0M723.54 141.6h0M721.24 143.81h0M718.94 145.98h0M716.6 148.1h0M714.23 150.15h0M711.82 152.12h0M709.37 154h0M706.87 155.8h0M704.35 157.52h0M701.81 159.21h0M699.3 160.9h0M696.82 162.61h0M694.4 164.37h0M692.05 166.2h0M689.77 168.1h0M687.56 170.05h0M685.43 172.06h0M683.37 174.14h0M681.38 176.26h0M679.45 178.4h0M677.53 180.54h0M675.6 182.66h0M673.67 184.76h0M671.74 186.83h0M669.81 188.89h0M667.9 190.95h0M666.01 193.01h0M664.15 195.08h0M662.33 197.17h0M660.62 199.34h0M659.13 201.64h0M657.94 204.11h0M657.02 206.67h0M656.27 209.27h0M655.63 211.89h0M655.06 214.51h0M654.58 217.14h0M654.19 219.77h0M653.88 222.4h0M653.68 225.02h0M653.57 227.64h0M653.57 230.25h0M653.67 232.85h0M653.85 235.46h0M654.12 238.07h0M654.45 240.69h0M654.85 243.32h0M655.34 245.94h0M655.95 248.55h0M656.7 251.13h0M657.63 253.67h0M658.77 256.14h0M660.13 258.51h0M661.69 260.76h0M663.41 262.91h0M665.24 264.99h0M667.14 267.02h0M669.08 269.02h0M671.03 271.04h0M672.97 273.08h0M674.88 275.17h0M676.79 277.28h0M678.68 279.41h0M680.59 281.56h0M682.53 283.69h0M684.52 285.8h0M686.58 287.86h0M688.73 289.85h0M690.99 291.73h0M693.35 293.52h0M695.77 295.24h0M698.24 296.92h0M700.74 298.6h0M703.23 300.3h0M705.7 302.06h0M708.15 303.88h0M710.58 305.75h0M712.99 307.68h0M715.38 309.66h0M717.74 311.7h0M720.08 313.8h0M722.39 315.95h0M724.68 318.16h0M726.94 320.42h0M729.19 322.75h0M731.43 325.15h0M733.67 327.62h0M735.89 330.16h0M738.11 332.77h0M740.32 335.44h0M742.53 338.18h0M744.72 340.99h0M746.91 343.86h0M749.09 346.79h0M751.27 349.78h0M753.48 352.8h0M755.74 355.84h0M758.09 358.86h0M760.57 361.83h0M763.22 364.71h0M766.08 367.45h0M769.17 370h0M772.46 372.36h0M775.8 374.72h0M779.05 377.29h0M782.26 379.97h0M785.59 382.58h0M789.23 384.8h0M793.24 386.38h0M797.43 387.61h0M801.72 388.66h0M806.11 389.47h0M810.59 389.96h0M815.15 390.05h0M819.72 389.7h0M824.21 389.03h0M828.61 388.18h0M832.92 387.12h0M837.06 385.67h0M840.9 383.66h0M844.4 381.17h0M847.71 378.51h0M850.99 375.88h0M854.32 373.39h0M857.66 370.98h0M860.85 368.46h0M863.83 365.76h0M866.61 362.92h0M869.21 359.97h0M871.67 356.96h0M874.01 353.91h0M876.27 350.85h0M878.47 347.81h0M880.64 344.8h0M882.81 341.83h0M884.99 338.94h0M887.2 336.14h0M889.45 333.41h0M891.71 330.77h0M894 328.2h0M896.29 325.7h0M898.59 323.28h0M900.88 320.92h0M903.18 318.62h0M905.46 316.37h0M907.76 314.17h0M910.07 312.01h0M912.4 309.91h0M914.77 307.87h0M917.19 305.92h0M919.66 304.06h0M922.17 302.3h0M924.7 300.59h0M927.24 298.92h0M929.74 297.24h0M932.21 295.51h0M934.61 293.73h0M936.93 291.87h0M939.18 289.95h0M941.36 287.97h0M943.47 285.94h0M945.5 283.85h0M947.47 281.72h0M949.4 279.57h0M951.32 277.44h0M953.25 275.33h0M955.18 273.24h0M957.11 271.17h0M959.03 269.11h0M960.94 267.05h0M962.82 264.99h0M964.67 262.92h0M966.46 260.81h0M968.11 258.6h0M969.5 256.24h0M970.59 253.74h0M971.44 251.16h0M972.15 248.55h0M972.77 245.93h0M973.31 243.3h0M973.77 240.67h0M974.13 238.04h0M974.4 235.42h0M974.57 232.79h0M974.64 230.18h0" fill="none" stroke="#5e81b5" stroke-width="6.9" stroke-linecap="round"/>
<path d="M901.1 229.35h0M901.04 226.55h0M900.98 223.73h0M900.91 220.88h0M900.64 218.02h0M900.32 215.14h0M900 212.23h0M899.59 209.31h0M899.15 206.36h0M898.71 203.4h0M898.19 200.41h0M897.53 197.43h0M896.86 194.43h0M896.18 191.4h0M895.47 188.35h0M894.75 185.28h0M893.98 182.19h0M893.12 179.1h0M891.97 176.12h0M890.06 173.48h0M887.89 171.03h0M885.62 168.61h0M883.34 166.18h0M881.03 163.73h0M878.6 161.36h0M876.09 159h0M873.53 156.6h0M870.92 154.15h0M868 151.97h0M864.69 150.42h0M861.04 149.41h0M857.3 148.5h0M853.48 147.6h0M849.58 146.71h0M845.6 145.83h0M841.53 144.96h0M837.34 144.34h0M833.06 143.69h0M828.68 143.17h0M824.21 142.67h0M819.62 142.47h0M814.94 142.37h0M810.16 142.44h0M805.44 142.54h0M800.84 143.02h0M796.34 143.52h0M791.95 144.17h0M787.65 144.82h0M783.48 145.63h0M779.4 146.54h0M775.41 147.44h0M771.5 148.36h0M767.67 149.27h0M763.95 150.3h0M760.5 151.75h0M757.5 153.94h0M754.83 156.44h0M752.22 158.89h0M749.66 161.3h0M747.19 163.7h0M744.86 166.17h0M742.56 168.63h0M740.28 171.06h0M738.1 173.55h0M736.17 176.2h0M735.04 179.22h0M734.18 182.34h0M733.41 185.45h0M732.69 188.54h0M731.97 191.62h0M731.28 194.67h0M730.61 197.7h0M729.94 200.7h0M729.45 203.71h0M729 206.7h0M728.55 209.67h0M728.16 212.61h0M727.83 215.54h0M727.51 218.45h0M727.28 221.33h0M727.21 224.2h0M727.15 227.04h0M727.11 229.86h0M727.17 232.67h0M727.24 235.5h0M727.3 238.35h0M727.62 241.21h0M727.94 244.1h0M728.26 247.01h0M728.69 249.93h0M729.13 252.88h0M729.58 255.85h0M730.13 258.83h0M730.79 261.82h0M731.46 264.83h0M732.15 267.86h0M732.86 270.91h0M733.58 273.99h0M734.38 277.08h0M735.24 280.17h0M736.58 283.06h0M738.49 285.7h0M740.73 288.12h0M742.99 290.54h0M745.28 292.97h0M747.59 295.43h0M750.05 297.77h0M752.57 300.14h0M755.15 302.55h0M757.78 304.98h0M760.75 307.13h0M764.18 308.46h0M767.84 309.48h0M771.6 310.37h0M775.43 311.26h0M779.35 312.15h0M783.34 313.04h0M787.43 313.85h0M791.64 314.48h0M795.93 315.12h0M800.33 315.62h0M804.82 316.12h0M809.43 316.25h0M814.13 316.35h0M818.93 316.24h0M823.63 316.09h0M828.2 315.58h0M832.69 315.06h0M837.06 314.41h0M841.34 313.76h0M845.49 312.9h0M849.55 311.99h0M853.53 311.08h0M857.42 310.18h0M861.23 309.24h0M864.94 308.21h0M868.26 306.54h0M871.2 304.29h0M873.86 301.8h0M876.46 299.35h0M879.01 296.95h0M881.45 294.53h0M883.77 292.07h0M886.07 289.62h0M888.35 287.19h0M890.47 284.66h0M892.39 282h0M893.32 278.9h0M894.18 275.79h0M894.92 272.67h0M895.65 269.58h0M896.36 266.51h0M897.04 263.46h0M897.71 260.44h0M898.38 257.44h0M898.84 254.43h0M899.29 251.44h0M899.73 248.48h0M900.1 245.54h0M900.43 242.61h0M900.75 239.71h0M900.93 236.83h0M901 233.97h0M901.06 231.13h0" fill="none" stroke="#eb6235" stroke-width="6.9" stroke-linecap="round"/>
<line x1="814.45" y1="47.5" x2="814.45" y2="411" stroke="#b2b2b2" stroke-width="1"/>
<line x1="632.55" y1="229.5" x2="995.5" y2="229.5" stroke="#b2b2b2" stroke-width="1"/>
<rect x="632.55" y="47.5" width="362.95" height="363.5" fill="none" stroke="#777777" stroke-width="1"/>
<line x1="632.66" y1="47.5" x2="632.66" y2="50.5" stroke="#808080" stroke-width="1"/>
<line x1="992.5" y1="47.91" x2="995.5" y2="47.91" stroke="#808080" stroke-width="1"/>
<line x1="645.62" y1="47.5" x2="645.62" y2="50.5" stroke="#808080" stroke-width="1"/>
<line x1="992.5" y1="60.87" x2="995.5" y2="60.87" stroke="#808080" stroke-width="1"/>
<line x1="658.58" y1="47.5" x2="658.58" y2="50.5" stroke="#808080" stroke-width="1"/>
<line x1="992.5" y1="73.83" x2="995.5" y2="73.83" stroke="#808080" stroke-width="1"/>
<line x1="671.54" y1="47.5" x2="671.54" y2="50.5" stroke="#808080" stroke-width="1"/>
<line x1="992.5" y1="86.79" x2="995.5" y2="86.79" stroke="#808080" stroke-width="1"/>
<line x1="684.5" y1="47.5" x2="684.5" y2="52.7" stroke="#808080" stroke-width="1"/>
<line x1="990.3" y1="99.75" x2="995.5" y2="99.75" stroke="#808080" stroke-width="1"/>
<line x1="697.46" y1="47.5" x2="697.46" y2="50.5" stroke="#808080" stroke-width="1"/>
<line x1="992.5" y1="112.71" x2="995.5" y2="112.71" stroke="#808080" stroke-width="1"/>
<line x1="710.42" y1="47.5" x2="710.42" y2="50.5" stroke="#808080" stroke-width="1"/>
<line x1="992.5" y1="125.67" x2="995.5" y2="125.67" stroke="#808080" stroke-width="1"/>
<line x1="723.38" y1="47.5" x2="723.38" y2="50.5" stroke="#808080" stroke-width="1"/>
<line x1="992.5" y1="138.63" x2="995.5" y2="138.63" stroke="#808080" stroke-width="1"/>
<line x1="736.34" y1="47.5" x2="736.34" y2="50.5" stroke="#808080" stroke-width="1"/>
<line x1="992.5" y1="151.59" x2="995.5" y2="151.59" stroke="#808080" stroke-width="1"/>
<line x1="749.3" y1="47.5" x2="749.3" y2="52.7" stroke="#808080" stroke-width="1"/>
<line x1="990.3" y1="164.55" x2="995.5" y2="164.55" stroke="#808080" stroke-width="1"/>
<line x1="762.26" y1="47.5" x2="762.26" y2="50.5" stroke="#808080" stroke-width="1"/>
<line x1="992.5" y1="177.51" x2="995.5" y2="177.51" stroke="#808080" stroke-width="1"/>
<line x1="775.22" y1="47.5" x2="775.22" y2="50.5" stroke="#808080" stroke-width="1"/>
<line x1="992.5" y1="190.47" x2="995.5" y2="190.47" stroke="#808080" stroke-width="1"/>
<line x1="788.18" y1="47.5" x2="788.18" y2="50.5" stroke="#808080" stroke-width="1"/>
<line x1="992.5" y1="203.43" x2="995.5" y2="203.43" stroke="#808080" stroke-width="1"/>
<line x1="801.14" y1="47.5" x2="801.14" y2="50.5" stroke="#808080" stroke-width="1"/>
<line x1="992.5" y1="216.39" x2="995.5" y2="216.39" stroke="#808080" stroke-width="1"/>
<line x1="814.1" y1="47.5" x2="814.1" y2="52.7" stroke="#808080" stroke-width="1"/>
<line x1="990.3" y1="229.35" x2="995.5" y2="229.35" stroke="#808080" stroke-width="1"/>
<line x1="827.06" y1="47.5" x2="827.06" y2="50.5" stroke="#808080" stroke-width="1"/>
<line x1="992.5" y1="242.31" x2="995.5" y2="242.31" stroke="#808080" stroke-width="1"/>
<line x1="840.02" y1="47.5" x2="840.02" y2="50.5" stroke="#808080" stroke-width="1"/>
<line x1="992.5" y1="255.27" x2="995.5" y2="255.27" stroke="#808080" stroke-width="1"/>
<line x1="852.98" y1="47.5" x2="852.98" y2="50.5" stroke="#808080" stroke-width="1"/>
<line x1="992.5" y1="268.23" x2="995.5" y2="268.23" stroke="#808080" stroke-width="1"/>
<line x1="865.94" y1="47.5" x2="865.94" y2="50.5" stroke="#808080" stroke-width="1"/>
<line x1="992.5" y1="281.19" x2="995.5" y2="281.19" stroke="#808080" stroke-width="1"/>
<line x1="878.9" y1="47.5" x2="878.9" y2="52.7" stroke="#808080" stroke-width="1"/>
<line x1="990.3" y1="294.15" x2="995.5" y2="294.15" stroke="#808080" stroke-width="1"/>
<line x1="891.86" y1="47.5" x2="891.86" y2="50.5" stroke="#808080" stroke-width="1"/>
<line x1="992.5" y1="307.11" x2="995.5" y2="307.11" stroke="#808080" stroke-width="1"/>
<line x1="904.82" y1="47.5" x2="904.82" y2="50.5" stroke="#808080" stroke-width="1"/>
<line x1="992.5" y1="320.07" x2="995.5" y2="320.07" stroke="#808080" stroke-width="1"/>
<line x1="917.78" y1="47.5" x2="917.78" y2="50.5" stroke="#808080" stroke-width="1"/>
<line x1="992.5" y1="333.03" x2="995.5" y2="333.03" stroke="#808080" stroke-width="1"/>
<line x1="930.74" y1="47.5" x2="930.74" y2="50.5" stroke="#808080" stroke-width="1"/>
<line x1="992.5" y1="345.99" x2="995.5" y2="345.99" stroke="#808080" stroke-width="1"/>
<line x1="943.7" y1="47.5" x2="943.7" y2="52.7" stroke="#808080" stroke-width="1"/>
<line x1="990.3" y1="358.95" x2="995.5" y2="358.95" stroke="#808080" stroke-width="1"/>
<line x1="956.66" y1="47.5" x2="956.66" y2="50.5" stroke="#808080" stroke-width="1"/>
<line x1="992.5" y1="371.91" x2="995.5" y2="371.91" stroke="#808080" stroke-width="1"/>
<line x1="969.62" y1="47.5" x2="969.62" y2="50.5" stroke="#808080" stroke-width="1"/>
<line x1="992.5" y1="384.87" x2="995.5" y2="384.87" stroke="#808080" stroke-width="1"/>
<line x1="982.58" y1="47.5" x2="982.58" y2="50.5" stroke="#808080" stroke-width="1"/>
<line x1="992.5" y1="397.83" x2="995.5" y2="397.83" stroke="#808080" stroke-width="1"/>
<line x1="995.54" y1="47.5" x2="995.54" y2="50.5" stroke="#808080" stroke-width="1"/>
<line x1="992.5" y1="410.79" x2="995.5" y2="410.79" stroke="#808080" stroke-width="1"/>
<line x1="684.5" y1="405.8" x2="684.5" y2="411" stroke="#808080" stroke-width="1"/>
<line x1="632.55" y1="99.75" x2="637.75" y2="99.75" stroke="#808080" stroke-width="1"/>
<line x1="814.1" y1="405.8" x2="814.1" y2="411" stroke="#808080" stroke-width="1"/>
<line x1="632.55" y1="229.35" x2="637.75" y2="229.35" stroke="#808080" stroke-width="1"/>
<line x1="943.7" y1="405.8" x2="943.7" y2="411" stroke="#808080" stroke-width="1"/>
<line x1="632.55" y1="358.95" x2="637.75" y2="358.95" stroke="#808080" stroke-width="1"/>
<text x="683" y="445.75" font-size="33" text-anchor="middle" fill="#666666"  >−0.1</text><rect x="698.86" y="442.28" width="6.63" height="4.17" fill="#fff" stroke="none"/><rect x="708.46" y="442.28" width="6.28" height="4.17" fill="#fff" stroke="none"/>
<text x="627.55" y="370.55" font-size="33" text-anchor="end" fill="#666666"  >−0.1</text><rect x="610.83" y="367.08" width="6.63" height="4.17" fill="#fff" stroke="none"/><rect x="620.43" y="367.08" width="6.28" height="4.17" fill="#fff" stroke="none"/>
<text x="814.1" y="445.75" font-size="33" text-anchor="middle" fill="#666666"  >0</text>
<text x="627.55" y="240.95" font-size="33" text-anchor="end" fill="#666666"  >0</text>
<text x="943.7" y="445.75" font-size="33" text-anchor="middle" fill="#666666"  >0.1</text><rect x="949.93" y="442.28" width="6.62" height="4.17" fill="#fff" stroke="none"/><rect x="959.53" y="442.28" width="6.27" height="4.17" fill="#fff" stroke="none"/>
<text x="627.55" y="111.35" font-size="33" text-anchor="end" fill="#666666"  >0.1</text><rect x="610.84" y="107.88" width="6.62" height="4.17" fill="#fff" stroke="none"/><rect x="620.44" y="107.88" width="6.27" height="4.17" fill="#fff" stroke="none"/>
<path d="M471.99 759.37h0M471.93 756.78h0M471.78 754.18h0M471.53 751.61h0M471.17 749.04h0M470.73 746.5h0M470.18 743.98h0M469.54 741.49h0M468.8 739.04h0M467.96 736.61h0M467.03 734.23h0M465.99 731.9h0M464.86 729.61h0M463.63 727.39h0M462.3 725.22h0M460.87 723.12h0M459.35 721.1h0M457.74 719.16h0M456.02 717.31h0M454.22 715.54h0M452.34 713.88h0M450.38 712.32h0M448.36 710.83h0M446.29 709.41h0M444.2 708.05h0M442.09 706.72h0M439.98 705.41h0M437.86 704.1h0M435.76 702.78h0M433.68 701.43h0M431.63 700.05h0M429.63 698.61h0M427.68 697.1h0M425.79 695.53h0M423.92 693.93h0M422.07 692.33h0M420.21 690.75h0M418.31 689.22h0M416.36 687.76h0M414.35 686.4h0M412.28 685.14h0M410.17 683.97h0M408.02 682.87h0M405.85 681.82h0M403.67 680.82h0M401.46 679.83h0M399.22 678.84h0M396.95 677.83h0M394.65 676.79h0M392.33 675.69h0M390.01 674.52h0M387.69 673.27h0M385.36 671.92h0M383.04 670.48h0M380.71 668.98h0M378.37 667.4h0M376.02 665.76h0M373.64 664.06h0M371.24 662.33h0M368.8 660.56h0M366.31 658.77h0M363.76 656.98h0M361.15 655.19h0M358.45 653.42h0M355.68 651.69h0M352.81 649.99h0M349.86 648.35h0M346.77 646.75h0M343.5 645.2h0M340.06 643.7h0M336.43 642.29h0M332.59 641h0M328.55 639.85h0M324.3 638.89h0M319.84 638.16h0M315.17 637.72h0M310.3 637.6h0M305.36 637.85h0M300.64 638.43h0M296.14 639.28h0M291.86 640.35h0M287.82 641.63h0M284 643.08h0M280.41 644.68h0M277.04 646.39h0M273.87 648.16h0M270.87 649.96h0M268.02 651.78h0M265.25 653.63h0M262.54 655.47h0M259.89 657.31h0M257.29 659.12h0M254.73 660.89h0M252.19 662.61h0M249.68 664.28h0M247.19 665.89h0M244.73 667.45h0M242.29 668.95h0M239.88 670.4h0M237.49 671.8h0M235.12 673.15h0M232.78 674.45h0M230.46 675.71h0M228.17 676.92h0M225.89 678.08h0M223.64 679.2h0M221.41 680.28h0M219.21 681.33h0M217.04 682.36h0M214.88 683.42h0M212.74 684.52h0M210.61 685.67h0M208.52 686.89h0M206.48 688.19h0M204.49 689.58h0M202.53 691.04h0M200.62 692.54h0M198.72 694.09h0M196.84 695.65h0M194.95 697.23h0M193.05 698.79h0M191.13 700.34h0M189.18 701.85h0M187.17 703.3h0M185.12 704.69h0M183.02 706.01h0M180.9 707.3h0M178.76 708.59h0M176.64 709.9h0M174.54 711.26h0M172.49 712.7h0M170.52 714.25h0M168.65 715.92h0M166.88 717.7h0M165.21 719.59h0M163.63 721.56h0M162.14 723.6h0M160.74 725.72h0M159.44 727.89h0M158.23 730.13h0M157.12 732.42h0M156.11 734.76h0M155.19 737.14h0M154.38 739.57h0M153.66 742.03h0M153.04 744.52h0M152.52 747.05h0M152.1 749.59h0M151.78 752.15h0M151.56 754.73h0M151.44 757.32h0M151.42 759.91h0M151.49 762.51h0M151.67 765.1h0M151.94 767.67h0M152.32 770.23h0M152.79 772.77h0M153.35 775.28h0M154.02 777.76h0M154.78 780.22h0M155.64 782.63h0M156.6 785h0M157.66 787.32h0M158.81 789.59h0M160.06 791.81h0M161.42 793.96h0M162.86 796.04h0M164.41 798.04h0M166.05 799.97h0M167.77 801.8h0M169.6 803.54h0M171.5 805.18h0M173.48 806.73h0M175.51 808.19h0M177.58 809.6h0M179.67 810.95h0M181.79 812.28h0M183.9 813.59h0M186.01 814.9h0M188.11 816.22h0M190.19 817.57h0M192.23 818.97h0M194.22 820.43h0M196.15 821.95h0M198.04 823.53h0M199.9 825.13h0M201.75 826.73h0M203.62 828.3h0M205.52 829.82h0M207.49 831.25h0M209.51 832.59h0M211.59 833.83h0M213.72 834.98h0M215.87 836.07h0M218.04 837.11h0M220.22 838.1h0M222.44 839.09h0M224.69 840.08h0M226.97 841.1h0M229.27 842.15h0M231.59 843.26h0M233.91 844.45h0M236.24 845.73h0M238.56 847.1h0M240.88 848.55h0M243.21 850.07h0M245.56 851.67h0M247.91 853.32h0M250.3 855.02h0M252.71 856.77h0M255.16 858.54h0M257.66 860.33h0M260.22 862.13h0M262.85 863.91h0M265.57 865.67h0M268.36 867.4h0M271.25 869.08h0M274.22 870.71h0M277.35 872.3h0M280.65 873.85h0M284.14 875.32h0M287.82 876.71h0M291.7 877.97h0M295.78 879.08h0M300.08 879.99h0M304.59 880.66h0M309.3 881.03h0M314.21 881.07h0M319.11 880.74h0M323.78 880.1h0M328.23 879.2h0M332.46 878.08h0M336.45 876.76h0M340.22 875.28h0M343.75 873.65h0M347.08 871.92h0M350.21 870.14h0M353.17 868.33h0M356 866.51h0M358.76 864.66h0M361.45 862.81h0M364.09 860.98h0M366.68 859.18h0M369.24 857.42h0M371.77 855.71h0M374.28 854.06h0M376.76 852.46h0M379.21 850.91h0M381.65 849.42h0M384.05 847.98h0M386.44 846.59h0M388.8 845.26h0M391.14 843.96h0M393.45 842.72h0M395.74 841.52h0M398.01 840.37h0M400.26 839.26h0M402.48 838.19h0M404.68 837.14h0M406.84 836.1h0M409 835.04h0M411.14 833.93h0M413.25 832.76h0M415.34 831.53h0M417.37 830.2h0M419.35 828.8h0M421.29 827.33h0M423.21 825.82h0M425.1 824.27h0M426.98 822.7h0M428.87 821.12h0M430.77 819.56h0M432.7 818.02h0M434.66 816.53h0M436.68 815.09h0M438.74 813.71h0M440.85 812.4h0M442.98 811.11h0M445.11 809.82h0M447.23 808.51h0M449.32 807.13h0M451.35 805.67h0M453.31 804.1h0M455.15 802.39h0M456.9 800.58h0M458.55 798.68h0M460.11 796.69h0M461.58 794.63h0M462.95 792.5h0M464.24 790.32h0M465.42 788.07h0M466.51 785.76h0M467.5 783.41h0M468.4 781.02h0M469.19 778.59h0M469.89 776.12h0M470.48 773.62h0M470.98 771.09h0M471.38 768.54h0M471.68 765.98h0M471.87 763.4h0M471.98 760.81h0" fill="none" stroke="#5e81b5" stroke-width="6.9" stroke-linecap="round"/>
<path d="M397.92 759.37h0M397.81 752.57h0M397.49 746.1h0M396.95 739.93h0M396.2 734.08h0M395.25 728.53h0M394.11 723.27h0M392.82 718.37h0M391.4 713.8h0M389.86 709.54h0M388.22 705.6h0M386.5 701.94h0M384.71 698.56h0M382.86 695.45h0M380.89 692.5h0M378.82 689.71h0M376.63 687.09h0M374.33 684.64h0M371.95 682.35h0M369.49 680.24h0M366.97 678.3h0M364.39 676.54h0M361.76 674.94h0M359.1 673.52h0M356.33 672.21h0M353.39 671h0M350.3 669.9h0M347.05 668.91h0M343.64 668.02h0M340.08 667.24h0M336.37 666.58h0M332.5 666.03h0M328.48 665.59h0M324.3 665.26h0M319.92 665.04h0M315.32 664.91h0M310.49 664.88h0M305.55 664.93h0M300.85 665.09h0M296.39 665.37h0M292.15 665.77h0M288.09 666.3h0M284.2 666.96h0M280.48 667.76h0M276.93 668.69h0M273.55 669.76h0M270.35 670.94h0M267.32 672.24h0M264.46 673.62h0M261.76 675.08h0M259.17 676.64h0M256.62 678.35h0M254.11 680.22h0M251.66 682.24h0M249.28 684.44h0M246.99 686.8h0M244.8 689.34h0M242.73 692.05h0M240.78 694.92h0M238.95 697.94h0M237.24 701.1h0M235.61 704.51h0M234.05 708.17h0M232.58 712.1h0M231.21 716.31h0M229.95 720.8h0M228.81 725.59h0M227.8 730.7h0M226.95 736.11h0M226.28 741.8h0M225.81 747.77h0M225.54 754.03h0M225.48 760.58h0M225.63 767.32h0M225.99 773.74h0M226.56 779.84h0M227.33 785.64h0M228.3 791.15h0M229.45 796.34h0M230.76 801.19h0M232.21 805.7h0M233.78 809.9h0M235.46 813.78h0M237.22 817.37h0M239.06 820.68h0M240.96 823.74h0M242.97 826.64h0M245.09 829.38h0M247.3 831.97h0M249.6 834.4h0M251.99 836.67h0M254.44 838.77h0M256.95 840.71h0M259.52 842.48h0M262.13 844.08h0M264.78 845.5h0M267.58 846.8h0M270.54 848h0M273.66 849.08h0M276.94 850.05h0M280.38 850.9h0M283.97 851.64h0M287.72 852.26h0M291.62 852.78h0M295.67 853.18h0M299.88 853.47h0M304.3 853.67h0M308.94 853.77h0M313.81 853.8h0M318.71 853.73h0M323.36 853.56h0M327.79 853.27h0M331.99 852.85h0M336.02 852.31h0M339.88 851.63h0M343.57 850.81h0M347.09 849.85h0M350.43 848.76h0M353.61 847.55h0M356.6 846.23h0M359.43 844.82h0M362.1 843.34h0M364.67 841.74h0M367.21 840h0M369.71 838.11h0M372.15 836.05h0M374.51 833.82h0M376.79 831.43h0M378.96 828.86h0M381.02 826.13h0M382.96 823.24h0M384.78 820.2h0M386.48 817h0M388.1 813.55h0M389.65 809.85h0M391.11 805.87h0M392.46 801.61h0M393.69 797.06h0M394.81 792.21h0M395.78 787.04h0M396.59 781.58h0M397.21 775.84h0M397.64 769.82h0M397.87 763.51h0" fill="none" stroke="#eb6235" stroke-width="6.9" stroke-linecap="round"/>
<line x1="311.55" y1="577.5" x2="311.55" y2="941" stroke="#b2b2b2" stroke-width="1"/>
<line x1="130.15" y1="759.5" x2="493.1" y2="759.5" stroke="#b2b2b2" stroke-width="1"/>
<rect x="130.15" y="577.5" width="362.95" height="363.5" fill="none" stroke="#777777" stroke-width="1"/>
<line x1="130.26" y1="577.5" x2="130.26" y2="580.5" stroke="#808080" stroke-width="1"/>
<line x1="490.1" y1="577.91" x2="493.1" y2="577.91" stroke="#808080" stroke-width="1"/>
<line x1="143.22" y1="577.5" x2="143.22" y2="580.5" stroke="#808080" stroke-width="1"/>
<line x1="490.1" y1="590.87" x2="493.1" y2="590.87" stroke="#808080" stroke-width="1"/>
<line x1="156.18" y1="577.5" x2="156.18" y2="580.5" stroke="#808080" stroke-width="1"/>
<line x1="490.1" y1="603.83" x2="493.1" y2="603.83" stroke="#808080" stroke-width="1"/>
<line x1="169.14" y1="577.5" x2="169.14" y2="580.5" stroke="#808080" stroke-width="1"/>
<line x1="490.1" y1="616.79" x2="493.1" y2="616.79" stroke="#808080" stroke-width="1"/>
<line x1="182.1" y1="577.5" x2="182.1" y2="582.7" stroke="#808080" stroke-width="1"/>
<line x1="487.9" y1="629.75" x2="493.1" y2="629.75" stroke="#808080" stroke-width="1"/>
<line x1="195.06" y1="577.5" x2="195.06" y2="580.5" stroke="#808080" stroke-width="1"/>
<line x1="490.1" y1="642.71" x2="493.1" y2="642.71" stroke="#808080" stroke-width="1"/>
<line x1="208.02" y1="577.5" x2="208.02" y2="580.5" stroke="#808080" stroke-width="1"/>
<line x1="490.1" y1="655.67" x2="493.1" y2="655.67" stroke="#808080" stroke-width="1"/>
<line x1="220.98" y1="577.5" x2="220.98" y2="580.5" stroke="#808080" stroke-width="1"/>
<line x1="490.1" y1="668.63" x2="493.1" y2="668.63" stroke="#808080" stroke-width="1"/>
<line x1="233.94" y1="577.5" x2="233.94" y2="580.5" stroke="#808080" stroke-width="1"/>
<line x1="490.1" y1="681.59" x2="493.1" y2="681.59" stroke="#808080" stroke-width="1"/>
<line x1="246.9" y1="577.5" x2="246.9" y2="582.7" stroke="#808080" stroke-width="1"/>
<line x1="487.9" y1="694.55" x2="493.1" y2="694.55" stroke="#808080" stroke-width="1"/>
<line x1="259.86" y1="577.5" x2="259.86" y2="580.5" stroke="#808080" stroke-width="1"/>
<line x1="490.1" y1="707.51" x2="493.1" y2="707.51" stroke="#808080" stroke-width="1"/>
<line x1="272.82" y1="577.5" x2="272.82" y2="580.5" stroke="#808080" stroke-width="1"/>
<line x1="490.1" y1="720.47" x2="493.1" y2="720.47" stroke="#808080" stroke-width="1"/>
<line x1="285.78" y1="577.5" x2="285.78" y2="580.5" stroke="#808080" stroke-width="1"/>
<line x1="490.1" y1="733.43" x2="493.1" y2="733.43" stroke="#808080" stroke-width="1"/>
<line x1="298.74" y1="577.5" x2="298.74" y2="580.5" stroke="#808080" stroke-width="1"/>
<line x1="490.1" y1="746.39" x2="493.1" y2="746.39" stroke="#808080" stroke-width="1"/>
<line x1="311.7" y1="577.5" x2="311.7" y2="582.7" stroke="#808080" stroke-width="1"/>
<line x1="487.9" y1="759.35" x2="493.1" y2="759.35" stroke="#808080" stroke-width="1"/>
<line x1="324.66" y1="577.5" x2="324.66" y2="580.5" stroke="#808080" stroke-width="1"/>
<line x1="490.1" y1="772.31" x2="493.1" y2="772.31" stroke="#808080" stroke-width="1"/>
<line x1="337.62" y1="577.5" x2="337.62" y2="580.5" stroke="#808080" stroke-width="1"/>
<line x1="490.1" y1="785.27" x2="493.1" y2="785.27" stroke="#808080" stroke-width="1"/>
<line x1="350.58" y1="577.5" x2="350.58" y2="580.5" stroke="#808080" stroke-width="1"/>
<line x1="490.1" y1="798.23" x2="493.1" y2="798.23" stroke="#808080" stroke-width="1"/>
<line x1="363.54" y1="577.5" x2="363.54" y2="580.5" stroke="#808080" stroke-width="1"/>
<line x1="490.1" y1="811.19" x2="493.1" y2="811.19" stroke="#808080" stroke-width="1"/>
<line x1="376.5" y1="577.5" x2="376.5" y2="582.7" stroke="#808080" stroke-width="1"/>
<line x1="487.9" y1="824.15" x2="493.1" y2="824.15" stroke="#808080" stroke-width="1"/>
<line x1="389.46" y1="577.5" x2="389.46" y2="580.5" stroke="#808080" stroke-width="1"/>
<line x1="490.1" y1="837.11" x2="493.1" y2="837.11" stroke="#808080" stroke-width="1"/>
<line x1="402.42" y1="577.5" x2="402.42" y2="580.5" stroke="#808080" stroke-width="1"/>
<line x1="490.1" y1="850.07" x2="493.1" y2="850.07" stroke="#808080" stroke-width="1"/>
<line x1="415.38" y1="577.5" x2="415.38" y2="580.5" stroke="#808080" stroke-width="1"/>
<line x1="490.1" y1="863.03" x2="493.1" y2="863.03" stroke="#808080" stroke-width="1"/>
<line x1="428.34" y1="577.5" x2="428.34" y2="580.5" stroke="#808080" stroke-width="1"/>
<line x1="490.1" y1="875.99" x2="493.1" y2="875.99" stroke="#808080" stroke-width="1"/>
<line x1="441.3" y1="577.5" x2="441.3" y2="582.7" stroke="#808080" stroke-width="1"/>
<line x1="487.9" y1="888.95" x2="493.1" y2="888.95" stroke="#808080" stroke-width="1"/>
<line x1="454.26" y1="577.5" x2="454.26" y2="580.5" stroke="#808080" stroke-width="1"/>
<line x1="490.1" y1="901.91" x2="493.1" y2="901.91" stroke="#808080" stroke-width="1"/>
<line x1="467.22" y1="577.5" x2="467.22" y2="580.5" stroke="#808080" stroke-width="1"/>
<line x1="490.1" y1="914.87" x2="493.1" y2="914.87" stroke="#808080" stroke-width="1"/>
<line x1="480.18" y1="577.5" x2="480.18" y2="580.5" stroke="#808080" stroke-width="1"/>
<line x1="490.1" y1="927.83" x2="493.1" y2="927.83" stroke="#808080" stroke-width="1"/>
<line x1="493.14" y1="577.5" x2="493.14" y2="580.5" stroke="#808080" stroke-width="1"/>
<line x1="490.1" y1="940.79" x2="493.1" y2="940.79" stroke="#808080" stroke-width="1"/>
<line x1="182.1" y1="935.8" x2="182.1" y2="941" stroke="#808080" stroke-width="1"/>
<line x1="130.15" y1="629.75" x2="135.35" y2="629.75" stroke="#808080" stroke-width="1"/>
<line x1="311.7" y1="935.8" x2="311.7" y2="941" stroke="#808080" stroke-width="1"/>
<line x1="130.15" y1="759.35" x2="135.35" y2="759.35" stroke="#808080" stroke-width="1"/>
<line x1="441.3" y1="935.8" x2="441.3" y2="941" stroke="#808080" stroke-width="1"/>
<line x1="130.15" y1="888.95" x2="135.35" y2="888.95" stroke="#808080" stroke-width="1"/>
<text x="180.6" y="975.75" font-size="33" text-anchor="middle" fill="#666666"  >−0.1</text><rect x="196.46" y="972.28" width="6.63" height="4.17" fill="#fff" stroke="none"/><rect x="206.06" y="972.28" width="6.28" height="4.17" fill="#fff" stroke="none"/>
<text x="125.15" y="900.55" font-size="33" text-anchor="end" fill="#666666"  >−0.1</text><rect x="108.43" y="897.08" width="6.63" height="4.17" fill="#fff" stroke="none"/><rect x="118.03" y="897.08" width="6.28" height="4.17" fill="#fff" stroke="none"/>
<text x="311.7" y="975.75" font-size="33" text-anchor="middle" fill="#666666"  >0</text>
<text x="125.15" y="770.95" font-size="33" text-anchor="end" fill="#666666"  >0</text>
<text x="441.3" y="975.75" font-size="33" text-anchor="middle" fill="#666666"  >0.1</text><rect x="447.53" y="972.28" width="6.62" height="4.17" fill="#fff" stroke="none"/><rect x="457.13" y="972.28" width="6.27" height="4.17" fill="#fff" stroke="none"/>
<text x="125.15" y="641.35" font-size="33" text-anchor="end" fill="#666666"  >0.1</text><rect x="108.44" y="637.88" width="6.62" height="4.17" fill="#fff" stroke="none"/><rect x="118.04" y="637.88" width="6.27" height="4.17" fill="#fff" stroke="none"/>
<path d="M937 759.35h0M936.71 755.16h0M936.43 751.05h0M936.15 747.01h0M935.87 743.05h0M935.47 739.18h0M934.84 735.41h0M934.23 731.71h0M933.58 728.09h0M932.71 724.58h0M931.85 721.14h0M931 717.76h0M929.99 714.5h0M928.89 711.34h0M927.82 708.23h0M926.7 705.19h0M925.52 702.24h0M924.35 699.31h0M923.18 696.43h0M921.39 693.92h0M919.62 691.44h0M917.82 689.03h0M915.83 686.81h0M913.85 684.62h0M911.9 682.45h0M909.97 680.32h0M907.95 678.3h0M905.96 676.31h0M904.01 674.31h0M902.11 672.31h0M900.23 670.33h0M898.31 668.44h0M896.36 666.62h0M894.43 664.83h0M892.52 663.05h0M890.28 661.71h0M888 660.43h0M885.71 659.14h0M883.36 657.93h0M880.98 656.74h0M878.59 655.55h0M876.19 654.35h0M873.78 653.14h0M871.36 651.93h0M868.93 650.72h0M866.49 649.49h0M864.01 648.31h0M861.49 647.18h0M858.97 646.05h0M856.43 644.9h0M853.85 643.83h0M851.23 642.82h0M848.59 641.8h0M845.95 640.78h0M843.22 639.94h0M840.46 639.2h0M837.68 638.45h0M834.89 637.7h0M832.06 637.05h0M829.22 636.4h0M826.36 635.74h0M823.46 635.35h0M820.51 635.16h0M817.54 634.97h0M814.56 634.78h0M811.57 634.91h0M808.59 635.1h0M805.62 635.29h0M802.68 635.55h0M799.8 636.21h0M796.95 636.87h0M794.1 637.52h0M791.28 638.24h0M788.49 638.99h0M785.71 639.75h0M782.95 640.51h0M780.29 641.54h0M777.64 642.56h0M775 643.58h0M772.39 644.62h0M769.84 645.77h0M767.29 646.92h0M764.77 648.06h0M762.26 649.22h0M759.8 650.45h0M757.36 651.67h0M754.92 652.89h0M752.5 654.1h0M750.09 655.31h0M747.69 656.51h0M745.3 657.7h0M742.92 658.89h0M740.62 660.19h0M738.32 661.49h0M736.04 662.77h0M734.1 664.52h0M732.19 666.29h0M730.26 668.08h0M728.35 669.93h0M726.5 671.88h0M724.62 673.85h0M722.71 675.84h0M720.75 677.8h0M718.76 679.79h0M716.82 681.87h0M714.9 684.01h0M712.95 686.17h0M710.99 688.35h0M709.13 690.67h0M707.38 693.11h0M705.62 695.58h0M704.26 698.31h0M703.1 701.19h0M701.94 704.1h0M700.79 707.06h0M699.74 710.09h0M698.67 713.18h0M697.58 716.32h0M696.74 719.6h0M695.9 722.95h0M695.05 726.36h0M694.28 729.86h0M693.68 733.46h0M693.07 737.12h0M692.48 740.85h0M692.21 744.7h0M691.94 748.62h0M691.67 752.61h0M691.39 756.67h0M691.3 760.81h0M691.59 764.97h0M691.87 769.06h0M692.15 773.07h0M692.42 777h0M692.95 780.83h0M693.57 784.58h0M694.18 788.25h0M694.92 791.83h0M695.79 795.32h0M696.65 798.73h0M697.49 802.09h0M698.59 805.3h0M699.68 808.45h0M700.75 811.54h0M701.91 814.53h0M703.09 817.48h0M704.26 820.39h0M705.64 823.14h0M707.42 825.64h0M709.19 828.11h0M711.07 830.44h0M713.06 832.65h0M715.02 834.83h0M716.97 836.99h0M718.93 839.08h0M720.94 841.09h0M722.93 843.08h0M724.85 845.09h0M726.74 847.08h0M728.61 849.05h0M730.56 850.9h0M732.51 852.7h0M734.44 854.49h0M736.43 856.15h0M738.7 857.43h0M740.99 858.72h0M743.29 860h0M745.66 861.18h0M748.04 862.37h0M750.43 863.57h0M752.84 864.77h0M755.25 865.97h0M757.67 867.19h0M760.11 868.41h0M762.56 869.63h0M765.06 870.78h0M767.58 871.91h0M770.11 873.05h0M772.65 874.19h0M775.26 875.22h0M777.88 876.23h0M780.52 877.25h0M783.17 878.27h0M785.93 879.01h0M788.7 879.76h0M791.48 880.51h0M794.28 881.22h0M797.12 881.87h0M799.96 882.53h0M802.82 883.19h0M805.76 883.42h0M808.71 883.61h0M811.68 883.8h0M814.67 883.91h0M817.66 883.72h0M820.63 883.53h0M823.6 883.35h0M826.51 882.92h0M829.38 882.27h0M832.24 881.61h0M835.08 880.96h0M837.88 880.2h0M840.67 879.45h0M843.44 878.7h0M846.17 877.84h0M848.83 876.81h0M851.47 875.79h0M854.11 874.77h0M856.69 873.68h0M859.24 872.53h0M861.78 871.39h0M864.3 870.25h0M866.79 869.06h0M869.24 867.83h0M871.68 866.61h0M874.11 865.39h0M876.53 864.18h0M878.94 862.98h0M881.34 861.78h0M883.72 860.59h0M886.07 859.36h0M888.38 858.06h0M890.67 856.77h0M892.85 855.34h0M894.76 853.57h0M896.67 851.79h0M898.61 849.99h0M900.49 848.1h0M902.35 846.14h0M904.23 844.16h0M906.16 842.19h0M908.14 840.21h0M910.13 838.21h0M912.04 836.09h0M913.97 833.95h0M915.93 831.78h0M917.9 829.58h0M919.67 827.19h0M921.42 824.74h0M923.2 822.26h0M924.34 819.4h0M925.5 816.51h0M926.67 813.58h0M927.77 810.6h0M928.83 807.55h0M929.91 804.44h0M930.92 801.25h0M931.75 797.94h0M932.59 794.57h0M933.45 791.14h0M934.12 787.6h0M934.73 783.98h0M935.34 780.3h0M935.81 776.52h0M936.08 772.65h0M936.35 768.71h0M936.63 764.7h0M936.91 760.61h0" fill="none" stroke="#5e81b5" stroke-width="6.9" stroke-linecap="round"/>
<path d="M908.9 759.35h0M908.7 756.16h0M908.5 753h0M908.3 749.88h0M908.11 746.81h0M907.68 743.79h0M907.23 740.81h0M906.8 737.87h0M906.25 734.98h0M905.63 732.14h0M905.01 729.34h0M904.41 726.57h0M903.07 724.11h0M901.75 721.68h0M900.39 719.31h0M899.04 716.97h0M897.71 714.66h0M896.39 712.37h0M895.12 710.09h0M893.87 707.81h0M892.61 705.51h0M891.34 703.21h0M890.05 700.9h0M888.75 698.59h0M887.44 696.27h0M885.78 694.25h0M883.64 692.63h0M881.5 691.01h0M879.32 689.42h0M877.07 687.89h0M874.82 686.36h0M872.56 684.82h0M870.29 683.28h0M867.93 681.85h0M865.56 680.42h0M863.17 678.99h0M860.78 677.56h0M858.29 676.28h0M855.75 675.06h0M853.21 673.84h0M850.65 672.61h0M848.06 671.43h0M845.45 670.26h0M842.83 669.08h0M840.2 667.9h0M837.47 666.96h0M834.71 666.03h0M831.94 665.12h0M829.07 664.59h0M826.17 664.05h0M823.24 663.77h0M820.28 663.63h0M817.31 663.5h0M814.33 663.36h0M811.33 663.48h0M808.34 663.61h0M805.37 663.75h0M802.42 663.98h0M799.52 664.52h0M796.62 665.05h0M793.83 665.92h0M791.06 666.85h0M788.31 667.78h0M785.66 668.95h0M783.03 670.13h0M780.41 671.31h0M777.81 672.49h0M775.24 673.72h0M772.68 674.95h0M770.13 676.17h0M767.62 677.44h0M765.22 678.88h0M762.82 680.32h0M760.44 681.75h0M758.07 683.17h0M755.79 684.72h0M753.51 686.27h0M751.25 687.81h0M749 689.34h0M746.8 690.93h0M744.65 692.56h0M742.5 694.19h0M740.8 696.19h0M739.49 698.52h0M738.19 700.84h0M736.89 703.15h0M735.62 705.46h0M734.35 707.77h0M733.09 710.06h0M731.83 712.35h0M730.52 714.6h0M729.21 716.89h0M727.87 719.2h0M726.53 721.54h0M725.22 723.94h0M723.9 726.37h0M723.24 729.08h0M722.63 731.85h0M722.02 734.65h0M721.46 737.49h0M721.03 740.39h0M720.59 743.33h0M720.15 746.3h0M719.93 749.33h0M719.74 752.41h0M719.54 755.52h0M719.34 758.66h0M719.46 761.85h0M719.66 765.01h0M719.85 768.14h0M720.05 771.23h0M720.43 774.26h0M720.87 777.24h0M721.31 780.19h0M721.81 783.1h0M722.43 785.94h0M723.05 788.75h0M723.66 791.52h0M724.84 794.05h0M726.17 796.49h0M727.51 798.88h0M728.87 801.23h0M730.2 803.54h0M731.53 805.83h0M732.8 808.11h0M734.06 810.4h0M735.32 812.69h0M736.58 814.99h0M737.87 817.3h0M739.17 819.6h0M740.47 821.92h0M741.95 824.09h0M744.09 825.71h0M746.23 827.34h0M748.4 828.95h0M750.64 830.48h0M752.89 832.01h0M755.15 833.54h0M757.42 835.09h0M759.76 836.54h0M762.13 837.97h0M764.51 839.39h0M766.9 840.83h0M769.36 842.16h0M771.9 843.37h0M774.44 844.59h0M776.99 845.82h0M779.58 847.01h0M782.18 848.19h0M784.8 849.36h0M787.42 850.55h0M790.14 851.54h0M792.89 852.47h0M795.65 853.4h0M798.51 854h0M801.4 854.53h0M804.31 854.91h0M807.27 855.04h0M810.24 855.17h0M813.22 855.31h0M816.22 855.25h0M819.21 855.12h0M822.18 854.98h0M825.15 854.84h0M828.05 854.3h0M830.95 853.76h0M833.77 852.99h0M836.54 852.05h0M839.29 851.12h0M841.96 850.01h0M844.6 848.83h0M847.22 847.65h0M849.83 846.47h0M852.4 845.24h0M854.96 844.02h0M857.51 842.79h0M860.05 841.57h0M862.46 840.13h0M864.86 838.7h0M867.24 837.27h0M869.62 835.84h0M871.92 834.31h0M874.19 832.77h0M876.45 831.23h0M878.71 829.7h0M880.93 828.12h0M883.08 826.49h0M885.23 824.86h0M887.11 823.02h0M888.42 820.69h0M889.73 818.37h0M891.03 816.05h0M892.3 813.74h0M893.57 811.43h0M894.83 809.14h0M896.09 806.85h0M897.39 804.59h0M898.7 802.32h0M900.04 800.01h0M901.38 797.68h0M902.69 795.29h0M904.01 792.86h0M904.82 790.22h0M905.43 787.46h0M906.05 784.67h0M906.65 781.84h0M907.08 778.95h0M907.51 776.02h0M907.95 773.05h0M908.23 770.03h0M908.42 766.97h0M908.62 763.87h0M908.81 760.73h0" fill="none" stroke="#eb6235" stroke-width="6.9" stroke-linecap="round"/>
<line x1="814.45" y1="577.5" x2="814.45" y2="941" stroke="#b2b2b2" stroke-width="1"/>
<line x1="632.55" y1="759.5" x2="995.5" y2="759.5" stroke="#b2b2b2" stroke-width="1"/>
<rect x="632.55" y="577.5" width="362.95" height="363.5" fill="none" stroke="#777777" stroke-width="1"/>
<line x1="632.66" y1="577.5" x2="632.66" y2="580.5" stroke="#808080" stroke-width="1"/>
<line x1="992.5" y1="577.91" x2="995.5" y2="577.91" stroke="#808080" stroke-width="1"/>
<line x1="645.62" y1="577.5" x2="645.62" y2="580.5" stroke="#808080" stroke-width="1"/>
<line x1="992.5" y1="590.87" x2="995.5" y2="590.87" stroke="#808080" stroke-width="1"/>
<line x1="658.58" y1="577.5" x2="658.58" y2="580.5" stroke="#808080" stroke-width="1"/>
<line x1="992.5" y1="603.83" x2="995.5" y2="603.83" stroke="#808080" stroke-width="1"/>
<line x1="671.54" y1="577.5" x2="671.54" y2="580.5" stroke="#808080" stroke-width="1"/>
<line x1="992.5" y1="616.79" x2="995.5" y2="616.79" stroke="#808080" stroke-width="1"/>
<line x1="684.5" y1="577.5" x2="684.5" y2="582.7" stroke="#808080" stroke-width="1"/>
<line x1="990.3" y1="629.75" x2="995.5" y2="629.75" stroke="#808080" stroke-width="1"/>
<line x1="697.46" y1="577.5" x2="697.46" y2="580.5" stroke="#808080" stroke-width="1"/>
<line x1="992.5" y1="642.71" x2="995.5" y2="642.71" stroke="#808080" stroke-width="1"/>
<line x1="710.42" y1="577.5" x2="710.42" y2="580.5" stroke="#808080" stroke-width="1"/>
<line x1="992.5" y1="655.67" x2="995.5" y2="655.67" stroke="#808080" stroke-width="1"/>
<line x1="723.38" y1="577.5" x2="723.38" y2="580.5" stroke="#808080" stroke-width="1"/>
<line x1="992.5" y1="668.63" x2="995.5" y2="668.63" stroke="#808080" stroke-width="1"/>
<line x1="736.34" y1="577.5" x2="736.34" y2="580.5" stroke="#808080" stroke-width="1"/>
<line x1="992.5" y1="681.59" x2="995.5" y2="681.59" stroke="#808080" stroke-width="1"/>
<line x1="749.3" y1="577.5" x2="749.3" y2="582.7" stroke="#808080" stroke-width="1"/>
<line x1="990.3" y1="694.55" x2="995.5" y2="694.55" stroke="#808080" stroke-width="1"/>
<line x1="762.26" y1="577.5" x2="762.26" y2="580.5" stroke="#808080" stroke-width="1"/>
<line x1="992.5" y1="707.51" x2="995.5" y2="707.51" stroke="#808080" stroke-width="1"/>
<line x1="775.22" y1="577.5" x2="775.22" y2="580.5" stroke="#808080" stroke-width="1"/>
<line x1="992.5" y1="720.47" x2="995.5" y2="720.47" stroke="#808080" stroke-width="1"/>
<line x1="788.18" y1="577.5" x2="788.18" y2="580.5" stroke="#808080" stroke-width="1"/>
<line x1="992.5" y1="733.43" x2="995.5" y2="733.43" stroke="#808080" stroke-width="1"/>
<line x1="801.14" y1="577.5" x2="801.14" y2="580.5" stroke="#808080" stroke-width="1"/>
<line x1="992.5" y1="746.39" x2="995.5" y2="746.39" stroke="#808080" stroke-width="1"/>
<line x1="814.1" y1="577.5" x2="814.1" y2="582.7" stroke="#808080" stroke-width="1"/>
<line x1="990.3" y1="759.35" x2="995.5" y2="759.35" stroke="#808080" stroke-width="1"/>
<line x1="827.06" y1="577.5" x2="827.06" y2="580.5" stroke="#808080" stroke-width="1"/>
<line x1="992.5" y1="772.31" x2="995.5" y2="772.31" stroke="#808080" stroke-width="1"/>
<line x1="840.02" y1="577.5" x2="840.02" y2="580.5" stroke="#808080" stroke-width="1"/>
<line x1="992.5" y1="785.27" x2="995.5" y2="785.27" stroke="#808080" stroke-width="1"/>
<line x1="852.98" y1="577.5" x2="852.98" y2="580.5" stroke="#808080" stroke-width="1"/>
<line x1="992.5" y1="798.23" x2="995.5" y2="798.23" stroke="#808080" stroke-width="1"/>
<line x1="865.94" y1="577.5" x2="865.94" y2="580.5" stroke="#808080" stroke-width="1"/>
<line x1="992.5" y1="811.19" x2="995.5" y2="811.19" stroke="#808080" stroke-width="1"/>
<line x1="878.9" y1="577.5" x2="878.9" y2="582.7" stroke="#808080" stroke-width="1"/>
<line x1="990.3" y1="824.15" x2="995.5" y2="824.15" stroke="#808080" stroke-width="1"/>
<line x1="891.86" y1="577.5" x2="891.86" y2="580.5" stroke="#808080" stroke-width="1"/>
<line x1="992.5" y1="837.11" x2="995.5" y2="837.11" stroke="#808080" stroke-width="1"/>
<line x1="904.82" y1="577.5" x2="904.82" y2="580.5" stroke="#808080" stroke-width="1"/>
<line x1="992.5" y1="850.07" x2="995.5" y2="850.07" stroke="#808080" stroke-width="1"/>
<line x1="917.78" y1="577.5" x2="917.78" y2="580.5" stroke="#808080" stroke-width="1"/>
<line x1="992.5" y1="863.03" x2="995.5" y2="863.03" stroke="#808080" stroke-width="1"/>
<line x1="930.74" y1="577.5" x2="930.74" y2="580.5" stroke="#808080" stroke-width="1"/>
<line x1="992.5" y1="875.99" x2="995.5" y2="875.99" stroke="#808080" stroke-width="1"/>
<line x1="943.7" y1="577.5" x2="943.7" y2="582.7" stroke="#808080" stroke-width="1"/>
<line x1="990.3" y1="888.95" x2="995.5" y2="888.95" stroke="#808080" stroke-width="1"/>
<line x1="956.66" y1="577.5" x2="956.66" y2="580.5" stroke="#808080" stroke-width="1"/>
<line x1="992.5" y1="901.91" x2="995.5" y2="901.91" stroke="#808080" stroke-width="1"/>
<line x1="969.62" y1="577.5" x2="969.62" y2="580.5" stroke="#808080" stroke-width="1"/>
<line x1="992.5" y1="914.87" x2="995.5" y2="914.87" stroke="#808080" stroke-width="1"/>
<line x1="982.58" y1="577.5" x2="982.58" y2="580.5" stroke="#808080" stroke-width="1"/>
<line x1="992.5" y1="927.83" x2="995.5" y2="927.83" stroke="#808080" stroke-width="1"/>
<line x1="995.54" y1="577.5" x2="995.54" y2="580.5" stroke="#808080" stroke-width="1"/>
<line x1="992.5" y1="940.79" x2="995.5" y2="940.79" stroke="#808080" stroke-width="1"/>
<line x1="684.5" y1="935.8" x2="684.5" y2="941" stroke="#808080" stroke-width="1"/>
<line x1="632.55" y1="629.75" x2="637.75" y2="629.75" stroke="#808080" stroke-width="1"/>
<line x1="814.1" y1="935.8" x2="814.1" y2="941" stroke="#808080" stroke-width="1"/>
<line x1="632.55" y1="759.35" x2="637.75" y2="759.35" stroke="#808080" stroke-width="1"/>
<line x1="943.7" y1="935.8" x2="943.7" y2="941" stroke="#808080" stroke-width="1"/>
<line x1="632.55" y1="888.95" x2="637.75" y2="888.95" stroke="#808080" stroke-width="1"/>
<text x="683" y="975.75" font-size="33" text-anchor="middle" fill="#666666"  >−0.1</text><rect x="698.86" y="972.28" width="6.63" height="4.17" fill="#fff" stroke="none"/><rect x="708.46" y="972.28" width="6.28" height="4.17" fill="#fff" stroke="none"/>
<text x="627.55" y="900.55" font-size="33" text-anchor="end" fill="#666666"  >−0.1</text><rect x="610.83" y="897.08" width="6.63" height="4.17" fill="#fff" stroke="none"/><rect x="620.43" y="897.08" width="6.28" height="4.17" fill="#fff" stroke="none"/>
<text x="814.1" y="975.75" font-size="33" text-anchor="middle" fill="#666666"  >0</text>
<text x="627.55" y="770.95" font-size="33" text-anchor="end" fill="#666666"  >0</text>
<text x="943.7" y="975.75" font-size="33" text-anchor="middle" fill="#666666"  >0.1</text><rect x="949.93" y="972.28" width="6.62" height="4.17" fill="#fff" stroke="none"/><rect x="959.53" y="972.28" width="6.27" height="4.17" fill="#fff" stroke="none"/>
<text x="627.55" y="641.35" font-size="33" text-anchor="end" fill="#666666"  >0.1</text><rect x="610.84" y="637.88" width="6.62" height="4.17" fill="#fff" stroke="none"/><rect x="620.44" y="637.88" width="6.27" height="4.17" fill="#fff" stroke="none"/>
<text x="502" y="30.7" font-size="33" text-anchor="start" fill="#000"  >(b)</text>
<text x="0.5" y="560.8" font-size="33" text-anchor="start" fill="#000"  >(c)</text>
<text x="502" y="560.8" font-size="33" text-anchor="start" fill="#000"  >(d)</text>
<g transform="translate(772.2,487.15)" fill="#666666">
<g stroke="#666666" stroke-width="0.35">
<text x="-18.9" y="-8" font-size="22" font-style="italic">k</text>
<text x="-5.8" y="-4.2" font-size="16.5">1</text><rect x="-4.97" y="-6.43" width="3.3" height="2.93" fill="#fff" stroke="none"/><rect x="-0.16" y="-6.43" width="3.14" height="2.93" fill="#fff" stroke="none"/>
<text x="7.0" y="-8" font-size="22" font-style="italic">a</text>
<text x="1.3" y="24.5" font-size="24.5" font-style="italic" text-anchor="middle">π</text>
</g>
<rect x="-19.7" y="-1.25" width="39.4" height="2.5"/>
<text x="34.6" y="8.8" font-size="33.2">[100]</text><rect x="45.48" y="5.32" width="6.66" height="4.18" fill="#fff" stroke="none"/><rect x="55.13" y="5.32" width="6.31" height="4.18" fill="#fff" stroke="none"/>
</g>
<g transform="translate(528.2,270.95) rotate(-90)" fill="#666666">
<g stroke="#666666" stroke-width="0.35">
<text x="-18.9" y="-8" font-size="22" font-style="italic">k</text>
<text x="-7.3" y="-4.2" font-size="16.5">2</text>
<text x="7.0" y="-8" font-size="22" font-style="italic">a</text>
<text x="1.3" y="24.5" font-size="24.5" font-style="italic" text-anchor="middle">π</text>
</g>
<rect x="-19.7" y="-1.25" width="39.4" height="2.5"/>
<text x="34.6" y="8.8" font-size="33.2">[010]</text><rect x="63.93" y="5.32" width="6.66" height="4.18" fill="#fff" stroke="none"/><rect x="73.59" y="5.32" width="6.31" height="4.18" fill="#fff" stroke="none"/>
</g>
<g transform="translate(269.8,1017.15)" fill="#666666">
<g stroke="#666666" stroke-width="0.35">
<text x="-18.9" y="-8" font-size="22" font-style="italic">k</text>
<text x="-5.8" y="-4.2" font-size="16.5">1</text><rect x="-4.97" y="-6.43" width="3.3" height="2.93" fill="#fff" stroke="none"/><rect x="-0.16" y="-6.43" width="3.14" height="2.93" fill="#fff" stroke="none"/>
<text x="7.0" y="-8" font-size="22" font-style="italic">a</text>
<text x="1.3" y="24.5" font-size="24.5" font-style="italic" text-anchor="middle">π</text>
</g>
<rect x="-19.7" y="-1.25" width="39.4" height="2.5"/>
<text x="34.6" y="8.8" font-size="33.2">[001]</text><rect x="82.39" y="5.32" width="6.66" height="4.18" fill="#fff" stroke="none"/><rect x="92.04" y="5.32" width="6.31" height="4.18" fill="#fff" stroke="none"/>
</g>
<g transform="translate(25.8,800.95) rotate(-90)" fill="#666666">
<g stroke="#666666" stroke-width="0.35">
<text x="-18.9" y="-8" font-size="22" font-style="italic">k</text>
<text x="-7.3" y="-4.2" font-size="16.5">2</text>
<text x="7.0" y="-8" font-size="22" font-style="italic">a</text>
<text x="1.3" y="24.5" font-size="24.5" font-style="italic" text-anchor="middle">π</text>
</g>
<rect x="-19.7" y="-1.25" width="39.4" height="2.5"/>
<text x="34.6" y="8.8" font-size="33.2">[110]</text><rect x="45.48" y="5.32" width="6.66" height="4.18" fill="#fff" stroke="none"/><rect x="55.13" y="5.32" width="6.31" height="4.18" fill="#fff" stroke="none"/><rect x="63.93" y="5.32" width="6.66" height="4.18" fill="#fff" stroke="none"/><rect x="73.59" y="5.32" width="6.31" height="4.18" fill="#fff" stroke="none"/>
<rect x="61.7" y="-20.15" width="18.3" height="2.7"/>
</g>
<g transform="translate(772.2,1017.15)" fill="#666666">
<g stroke="#666666" stroke-width="0.35">
<text x="-18.9" y="-8" font-size="22" font-style="italic">k</text>
<text x="-5.8" y="-4.2" font-size="16.5">1</text><rect x="-4.97" y="-6.43" width="3.3" height="2.93" fill="#fff" stroke="none"/><rect x="-0.16" y="-6.43" width="3.14" height="2.93" fill="#fff" stroke="none"/>
<text x="7.0" y="-8" font-size="22" font-style="italic">a</text>
<text x="1.3" y="24.5" font-size="24.5" font-style="italic" text-anchor="middle">π</text>
</g>
<rect x="-19.7" y="-1.25" width="39.4" height="2.5"/>
<text x="34.6" y="8.8" font-size="33.2">[110]</text><rect x="45.48" y="5.32" width="6.66" height="4.18" fill="#fff" stroke="none"/><rect x="55.13" y="5.32" width="6.31" height="4.18" fill="#fff" stroke="none"/><rect x="63.93" y="5.32" width="6.66" height="4.18" fill="#fff" stroke="none"/><rect x="73.59" y="5.32" width="6.31" height="4.18" fill="#fff" stroke="none"/>
<rect x="61.7" y="-20.15" width="18.3" height="2.7"/>
</g>
<g transform="translate(528.2,800.95) rotate(-90)" fill="#666666">
<g stroke="#666666" stroke-width="0.35">
<text x="-18.9" y="-8" font-size="22" font-style="italic">k</text>
<text x="-7.3" y="-4.2" font-size="16.5">2</text>
<text x="7.0" y="-8" font-size="22" font-style="italic">a</text>
<text x="1.3" y="24.5" font-size="24.5" font-style="italic" text-anchor="middle">π</text>
</g>
<rect x="-19.7" y="-1.25" width="39.4" height="2.5"/>
<text x="34.6" y="8.8" font-size="33.2">[112]</text><rect x="45.48" y="5.32" width="6.66" height="4.18" fill="#fff" stroke="none"/><rect x="55.13" y="5.32" width="6.31" height="4.18" fill="#fff" stroke="none"/><rect x="63.93" y="5.32" width="6.66" height="4.18" fill="#fff" stroke="none"/><rect x="73.59" y="5.32" width="6.31" height="4.18" fill="#fff" stroke="none"/>
<rect x="79.8" y="-20.15" width="18.3" height="2.7"/>
</g>
<path d="M982.8 230.3 C982.6 196 974 160 951.5 128.5" fill="none" stroke="#000" stroke-width="3.6"/>
<path d="M936.4 112.1 L963.1 131.3 L953.0 131.2 L948.7 142.3 Z" fill="#000"/>
<path d="M948.0 75.9 C944.5 79.5 942.0 84 942.0 88.4 C942.0 94 946.5 97.6 954 97.6 C964.5 97.6 974.2 90 974.2 82.3 C974.2 78.2 971.5 75.9 967.8 75.9 C961 75.9 956.3 86.5 954.0 94.5" fill="none" stroke="#000" stroke-width="1.6" stroke-linecap="round"/>
<path d="M958 97.3 C966.5 96 974.2 89.3 974.2 82.3 C974.2 78.6 972 76.3 968.8 75.9" fill="none" stroke="#000" stroke-width="2.4" stroke-linecap="round"/>
<path d="M953.2 93.5 L955.3 94.2 L952.2 109.0 Q950.4 110.6 948.6 109.0 Z" fill="#000"/>
</svg></body></html>
